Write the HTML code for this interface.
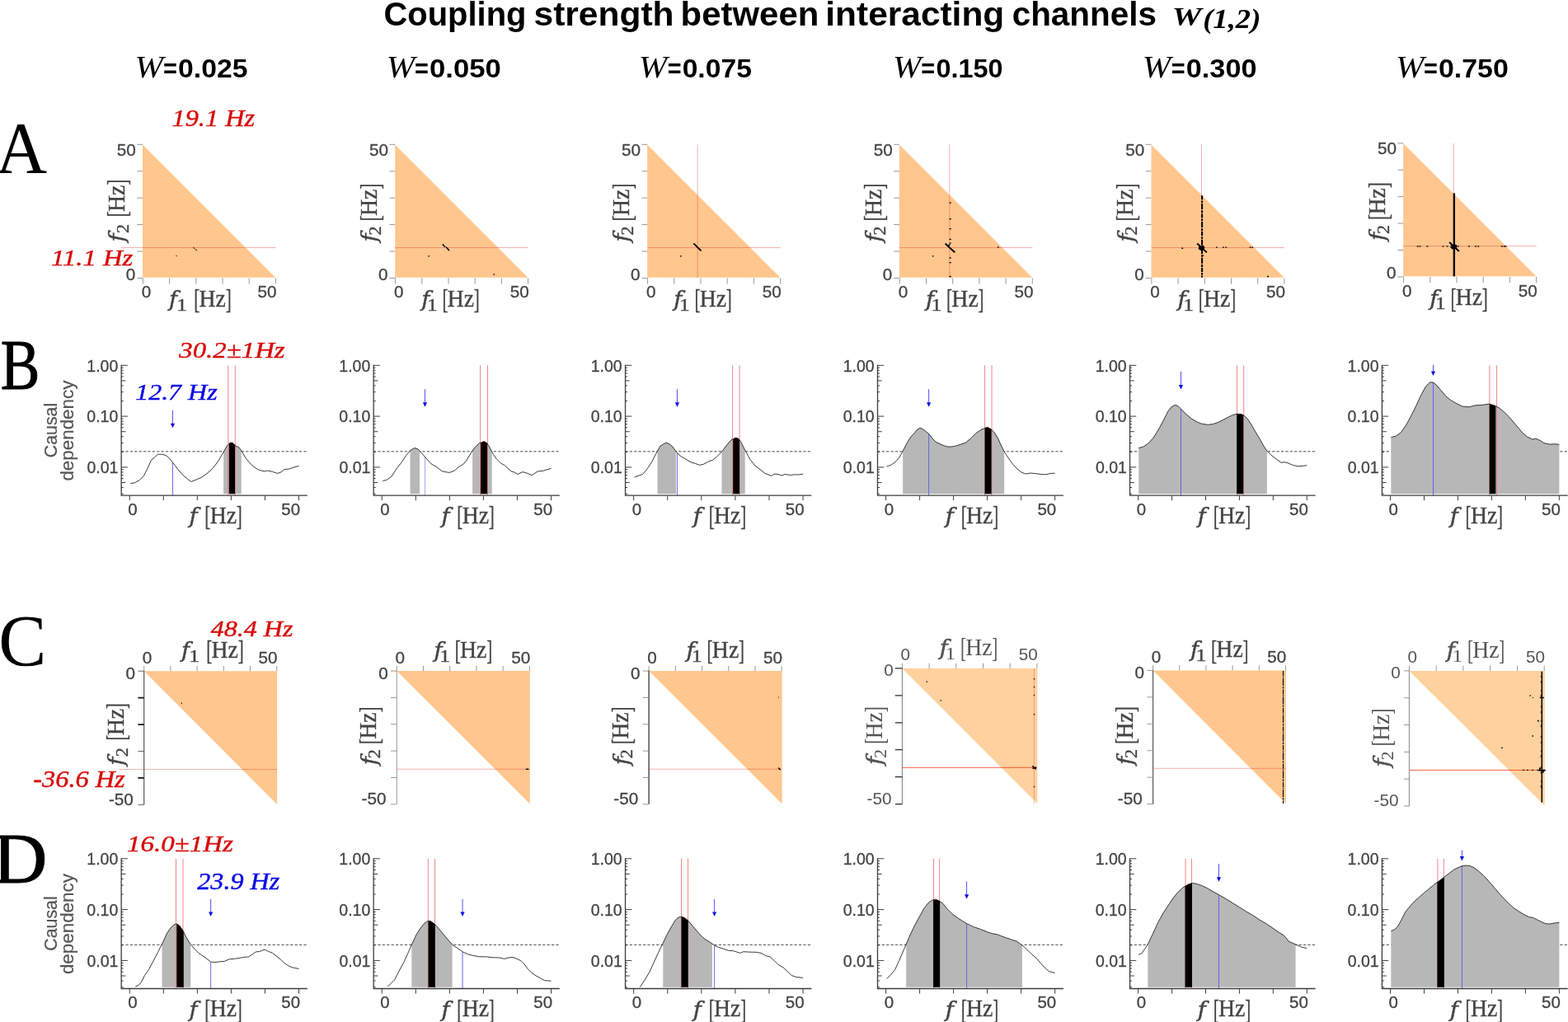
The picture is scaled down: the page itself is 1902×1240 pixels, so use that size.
<!DOCTYPE html>
<html lang="en"><head><meta charset="utf-8"><title>Coupling strength between interacting channels</title>
<style>
html,body{margin:0;padding:0;background:#fff;}
body{width:1902px;height:1240px;overflow:hidden;}
svg{display:block;}
text{font-family:"Liberation Sans",sans-serif;}
.sb{font-family:"Liberation Sans",sans-serif;font-weight:bold;fill:#000;}
.tk{font-family:"Liberation Sans",sans-serif;fill:#444;stroke:#444;stroke-width:.3px;}
.cd{font-family:"Liberation Sans",sans-serif;fill:#555;stroke:#555;stroke-width:.2px;}
.r{font-family:"Liberation Serif",serif;}
.rk{font-family:"Liberation Serif",serif;stroke:#000;stroke-width:1px;}
.ri{font-family:"Liberation Serif",serif;font-style:italic;fill:#000;}
.rbi{font-family:"Liberation Serif",serif;font-style:italic;font-weight:bold;}
.fi{font-family:"DejaVu Serif","Liberation Serif",serif;font-style:italic;stroke:#444;stroke-width:.45px;}
.fbi{font-family:"DejaVu Serif","Liberation Serif",serif;font-style:italic;font-weight:bold;}
.lab{fill:#444;}
.lab .r{stroke:#444;stroke-width:.35px;}
.lt .tk{fill:#555;stroke:none;}
.lt .lab{fill:#555;}
.lt .lab .r{stroke:none;}
.red{font-family:"Liberation Serif",serif;font-style:italic;fill:#d80a0a;stroke:#d80a0a;stroke-width:.4px;}
.blu{font-family:"Liberation Serif",serif;font-style:italic;fill:#0a0ae6;stroke:#0a0ae6;stroke-width:.4px;}
</style></head><body>
<svg width="1902" height="1240" viewBox="0 0 1902 1240">
<rect width="1902" height="1240" fill="#fff"/>
<text fill="#000"><tspan class="sb" x="465.5" y="30.9" font-size="40.5" textLength="172.97" lengthAdjust="spacingAndGlyphs">Coupling</tspan> <tspan class="sb" x="647.51" y="30.9" font-size="40.5" textLength="170.04" lengthAdjust="spacingAndGlyphs">strength</tspan> <tspan class="sb" x="825.57" y="30.9" font-size="40.5" textLength="167.78" lengthAdjust="spacingAndGlyphs">between</tspan> <tspan class="sb" x="1001.33" y="30.9" font-size="40.5" textLength="216.91" lengthAdjust="spacingAndGlyphs">interacting</tspan> <tspan class="sb" x="1227.68" y="30.9" font-size="40.5" textLength="175.34" lengthAdjust="spacingAndGlyphs">channels</tspan> <tspan class="rbi" x="1421.56" y="31.43" font-size="31.58" textLength="36.08" lengthAdjust="spacingAndGlyphs">W</tspan><tspan class="rbi" x="1459.17" y="33.64" font-size="34.11" textLength="70.25" lengthAdjust="spacingAndGlyphs">(1,2)</tspan></text>
<text fill="#000"><tspan class="ri" x="163.51" y="94.4" font-size="37.6" textLength="34.5" lengthAdjust="spacingAndGlyphs">W</tspan><tspan class="sb" x="198.04" y="94.1" font-size="31.5" textLength="16.88" lengthAdjust="spacingAndGlyphs">=</tspan><tspan class="sb" x="216.05" y="94.1" font-size="31.5" textLength="84.38" lengthAdjust="spacingAndGlyphs">0.025</tspan></text>
<text fill="#000"><tspan class="ri" x="468.71" y="94.4" font-size="37.6" textLength="34.5" lengthAdjust="spacingAndGlyphs">W</tspan><tspan class="sb" x="503.04" y="94.1" font-size="31.5" textLength="16.88" lengthAdjust="spacingAndGlyphs">=</tspan><tspan class="sb" x="521.01" y="94.1" font-size="31.5" textLength="86.86" lengthAdjust="spacingAndGlyphs">0.050</tspan></text>
<text fill="#000"><tspan class="ri" x="774.81" y="94.4" font-size="37.6" textLength="34.5" lengthAdjust="spacingAndGlyphs">W</tspan><tspan class="sb" x="809.64" y="94.1" font-size="31.5" textLength="16.88" lengthAdjust="spacingAndGlyphs">=</tspan><tspan class="sb" x="827.65" y="94.1" font-size="31.5" textLength="84.27" lengthAdjust="spacingAndGlyphs">0.075</tspan></text>
<text fill="#000"><tspan class="ri" x="1082.91" y="94.4" font-size="37.6" textLength="34.5" lengthAdjust="spacingAndGlyphs">W</tspan><tspan class="sb" x="1117.34" y="94.1" font-size="31.5" textLength="16.88" lengthAdjust="spacingAndGlyphs">=</tspan><tspan class="sb" x="1135.4" y="94.1" font-size="31.5" textLength="81.07" lengthAdjust="spacingAndGlyphs">0.150</tspan></text>
<text fill="#000"><tspan class="ri" x="1385.81" y="94.4" font-size="37.6" textLength="34.5" lengthAdjust="spacingAndGlyphs">W</tspan><tspan class="sb" x="1420.84" y="94.1" font-size="31.5" textLength="16.88" lengthAdjust="spacingAndGlyphs">=</tspan><tspan class="sb" x="1438.83" y="94.1" font-size="31.5" textLength="85.62" lengthAdjust="spacingAndGlyphs">0.300</tspan></text>
<text fill="#000"><tspan class="ri" x="1693.11" y="94.4" font-size="37.6" textLength="34.5" lengthAdjust="spacingAndGlyphs">W</tspan><tspan class="sb" x="1726.94" y="94.1" font-size="31.5" textLength="16.88" lengthAdjust="spacingAndGlyphs">=</tspan><tspan class="sb" x="1744.94" y="94.1" font-size="31.5" textLength="84.8" lengthAdjust="spacingAndGlyphs">0.750</tspan></text>
<text class="r" transform="translate(-5.37 208.6) scale(0.964 1)" font-size="89.77" fill="#000">A</text>
<text class="rk" transform="translate(0.66 471.5) scale(0.819 1)" font-size="87.18" fill="#000">B</text>
<text class="r" transform="translate(-1.68 807.41) scale(0.980 1)" font-size="88.81" fill="#000">C</text>
<text class="rk" transform="translate(-8.75 1070.5) scale(1.043 1)" font-size="87.79" fill="#000">D</text>
<path d="M173 175.4V336.8H334.2Z" fill="#ffc78e"/>
<path d="M166.3 337.4H173M173.4 337.4V344.6M166.3 304.98H173M205.6 337.4V344.6M166.3 272.56H173M237.8 337.4V344.6M166.3 240.14H173M270 337.4V344.6M166.3 207.72H173M302.2 337.4V344.6M166.3 175.3H173M334.4 337.4V344.6" stroke="#8c8c8c" stroke-width="0.9"/>
<path d="M147 300.5H334.5" stroke="#e62a2a" stroke-width="0.9" stroke-opacity="0.42"/>
<text class="tk" x="141.86" y="188.8" font-size="19.8" textLength="23.02" lengthAdjust="spacingAndGlyphs">50</text>
<text class="tk" x="152.84" y="339.5" font-size="19.8" textLength="11.51" lengthAdjust="spacingAndGlyphs">0</text>
<text class="tk" x="171.77" y="361.4" font-size="19.8" textLength="11.51" lengthAdjust="spacingAndGlyphs">0</text>
<text class="tk" x="312.56" y="361.4" font-size="19.8" textLength="23.02" lengthAdjust="spacingAndGlyphs">50</text>
<text class="lab" transform="translate(203.4 371.8)"><tspan class="fi" x="1.64" y="0.36" font-size="26.39" textLength="10.11" lengthAdjust="spacingAndGlyphs">f</tspan><tspan class="r" x="10.81" y="5" font-size="20.92" textLength="12.71" lengthAdjust="spacingAndGlyphs">1</tspan> <tspan class="r" x="31.8" y="2.52" font-size="33.94" textLength="7.12" lengthAdjust="spacingAndGlyphs">[</tspan><tspan class="r" x="38.07" y="0" font-size="28.85" textLength="32.35" lengthAdjust="spacingAndGlyphs">Hz</tspan><tspan class="r" x="70.27" y="2.52" font-size="33.94" textLength="6.96" lengthAdjust="spacingAndGlyphs">]</tspan></text>
<text class="lab" transform="translate(150.8 295.1) rotate(-90)"><tspan class="fi" x="1.64" y="0.36" font-size="26.39" textLength="10.11" lengthAdjust="spacingAndGlyphs">f</tspan><tspan class="r" x="12.1" y="5" font-size="20.76" textLength="11.12" lengthAdjust="spacingAndGlyphs">2</tspan> <tspan class="r" x="31.8" y="2.52" font-size="33.94" textLength="7.12" lengthAdjust="spacingAndGlyphs">[</tspan><tspan class="r" x="38.07" y="0" font-size="28.85" textLength="32.35" lengthAdjust="spacingAndGlyphs">Hz</tspan><tspan class="r" x="70.27" y="2.52" font-size="33.94" textLength="6.96" lengthAdjust="spacingAndGlyphs">]</tspan></text>
<path d="M213.4 309.9h1.2v1.2h-1.2z" fill="#000"/>
<path d="M234.3 300.2L236.5 301.9" stroke="#000" stroke-width="1"/>
<path d="M237.2 302.9L239 303.8" stroke="#000" stroke-width="1"/>
<path d="M479.2 175.4V336.8H640.4Z" fill="#ffc78e"/>
<path d="M472.5 337.4H479.2M479.6 337.4V344.6M472.5 304.98H479.2M511.8 337.4V344.6M472.5 272.56H479.2M544 337.4V344.6M472.5 240.14H479.2M576.2 337.4V344.6M472.5 207.72H479.2M608.4 337.4V344.6M472.5 175.3H479.2M640.6 337.4V344.6" stroke="#8c8c8c" stroke-width="0.9"/>
<path d="M479.2 300.5H640.7" stroke="#e62a2a" stroke-width="0.9" stroke-opacity="0.42"/>
<text class="tk" x="448.06" y="188.8" font-size="19.8" textLength="23.02" lengthAdjust="spacingAndGlyphs">50</text>
<text class="tk" x="459.04" y="339.5" font-size="19.8" textLength="11.51" lengthAdjust="spacingAndGlyphs">0</text>
<text class="tk" x="477.97" y="361.4" font-size="19.8" textLength="11.51" lengthAdjust="spacingAndGlyphs">0</text>
<text class="tk" x="618.76" y="361.4" font-size="19.8" textLength="23.02" lengthAdjust="spacingAndGlyphs">50</text>
<text class="lab" transform="translate(509.6 371.8)"><tspan class="fi" x="1.64" y="0.36" font-size="26.39" textLength="10.11" lengthAdjust="spacingAndGlyphs">f</tspan><tspan class="r" x="8.31" y="5" font-size="20.92" textLength="12.71" lengthAdjust="spacingAndGlyphs">1</tspan> <tspan class="r" x="26.8" y="2.52" font-size="33.94" textLength="7.12" lengthAdjust="spacingAndGlyphs">[</tspan><tspan class="r" x="33.07" y="0" font-size="28.85" textLength="32.35" lengthAdjust="spacingAndGlyphs">Hz</tspan><tspan class="r" x="65.27" y="2.52" font-size="33.94" textLength="6.96" lengthAdjust="spacingAndGlyphs">]</tspan></text>
<text class="lab" transform="translate(457 295.1) rotate(-90)"><tspan class="fi" x="1.64" y="0.36" font-size="26.39" textLength="10.11" lengthAdjust="spacingAndGlyphs">f</tspan><tspan class="r" x="9.6" y="5" font-size="20.76" textLength="11.12" lengthAdjust="spacingAndGlyphs">2</tspan> <tspan class="r" x="26.8" y="2.52" font-size="33.94" textLength="7.12" lengthAdjust="spacingAndGlyphs">[</tspan><tspan class="r" x="33.07" y="0" font-size="28.85" textLength="32.35" lengthAdjust="spacingAndGlyphs">Hz</tspan><tspan class="r" x="65.27" y="2.52" font-size="33.94" textLength="6.96" lengthAdjust="spacingAndGlyphs">]</tspan></text>
<path d="M519.4 310h1.4v1.4h-1.4zM598.5 332.3h1.4v1.4h-1.4z" fill="#000"/>
<path d="M536.8 296.3L539.9 299.8" stroke="#000" stroke-width="1.4"/>
<path d="M541 299.6L544.8 304.1" stroke="#000" stroke-width="1.6"/>
<path d="M785.2 175.4V336.8H946.4Z" fill="#ffc78e"/>
<path d="M778.5 337.4H785.2M785.6 337.4V344.6M778.5 304.98H785.2M817.8 337.4V344.6M778.5 272.56H785.2M850 337.4V344.6M778.5 240.14H785.2M882.2 337.4V344.6M778.5 207.72H785.2M914.4 337.4V344.6M778.5 175.3H785.2M946.6 337.4V344.6" stroke="#8c8c8c" stroke-width="0.9"/>
<path d="M785.2 300.5H946.7" stroke="#e62a2a" stroke-width="0.9" stroke-opacity="0.42"/>
<path d="M846.2 175.4V336.8" stroke="#e62a2a" stroke-width="0.9" stroke-opacity="0.42"/>
<text class="tk" x="754.06" y="188.8" font-size="19.8" textLength="23.02" lengthAdjust="spacingAndGlyphs">50</text>
<text class="tk" x="765.04" y="339.5" font-size="19.8" textLength="11.51" lengthAdjust="spacingAndGlyphs">0</text>
<text class="tk" x="783.97" y="361.4" font-size="19.8" textLength="11.51" lengthAdjust="spacingAndGlyphs">0</text>
<text class="tk" x="924.76" y="361.4" font-size="19.8" textLength="23.02" lengthAdjust="spacingAndGlyphs">50</text>
<text class="lab" transform="translate(815.6 371.8)"><tspan class="fi" x="1.64" y="0.36" font-size="26.39" textLength="10.11" lengthAdjust="spacingAndGlyphs">f</tspan><tspan class="r" x="8.31" y="5" font-size="20.92" textLength="12.71" lengthAdjust="spacingAndGlyphs">1</tspan> <tspan class="r" x="26.8" y="2.52" font-size="33.94" textLength="7.12" lengthAdjust="spacingAndGlyphs">[</tspan><tspan class="r" x="33.07" y="0" font-size="28.85" textLength="32.35" lengthAdjust="spacingAndGlyphs">Hz</tspan><tspan class="r" x="65.27" y="2.52" font-size="33.94" textLength="6.96" lengthAdjust="spacingAndGlyphs">]</tspan></text>
<text class="lab" transform="translate(763 295.1) rotate(-90)"><tspan class="fi" x="1.64" y="0.36" font-size="26.39" textLength="10.11" lengthAdjust="spacingAndGlyphs">f</tspan><tspan class="r" x="9.6" y="5" font-size="20.76" textLength="11.12" lengthAdjust="spacingAndGlyphs">2</tspan> <tspan class="r" x="26.8" y="2.52" font-size="33.94" textLength="7.12" lengthAdjust="spacingAndGlyphs">[</tspan><tspan class="r" x="33.07" y="0" font-size="28.85" textLength="32.35" lengthAdjust="spacingAndGlyphs">Hz</tspan><tspan class="r" x="65.27" y="2.52" font-size="33.94" textLength="6.96" lengthAdjust="spacingAndGlyphs">]</tspan></text>
<path d="M825.1 310h1.4v1.4h-1.4z" fill="#000"/>
<path d="M841.4 295.3L850.5 304.3" stroke="#000" stroke-width="1.8"/>
<path d="M1090.9 175.4V336.8H1252.1Z" fill="#ffc78e"/>
<path d="M1084.2 337.4H1090.9M1091.3 337.4V344.6M1084.2 304.98H1090.9M1123.5 337.4V344.6M1084.2 272.56H1090.9M1155.7 337.4V344.6M1084.2 240.14H1090.9M1187.9 337.4V344.6M1084.2 207.72H1090.9M1220.1 337.4V344.6M1084.2 175.3H1090.9M1252.3 337.4V344.6" stroke="#8c8c8c" stroke-width="0.9"/>
<path d="M1090.9 300.5H1252.4" stroke="#e62a2a" stroke-width="0.9" stroke-opacity="0.42"/>
<path d="M1151.9 175.4V336.8" stroke="#e62a2a" stroke-width="0.9" stroke-opacity="0.42"/>
<text class="tk" x="1059.76" y="188.8" font-size="19.8" textLength="23.02" lengthAdjust="spacingAndGlyphs">50</text>
<text class="tk" x="1070.74" y="339.5" font-size="19.8" textLength="11.51" lengthAdjust="spacingAndGlyphs">0</text>
<text class="tk" x="1089.67" y="361.4" font-size="19.8" textLength="11.51" lengthAdjust="spacingAndGlyphs">0</text>
<text class="tk" x="1230.46" y="361.4" font-size="19.8" textLength="23.02" lengthAdjust="spacingAndGlyphs">50</text>
<text class="lab" transform="translate(1121.3 371.8)"><tspan class="fi" x="1.64" y="0.36" font-size="26.39" textLength="10.11" lengthAdjust="spacingAndGlyphs">f</tspan><tspan class="r" x="8.31" y="5" font-size="20.92" textLength="12.71" lengthAdjust="spacingAndGlyphs">1</tspan> <tspan class="r" x="26.8" y="2.52" font-size="33.94" textLength="7.12" lengthAdjust="spacingAndGlyphs">[</tspan><tspan class="r" x="33.07" y="0" font-size="28.85" textLength="32.35" lengthAdjust="spacingAndGlyphs">Hz</tspan><tspan class="r" x="65.27" y="2.52" font-size="33.94" textLength="6.96" lengthAdjust="spacingAndGlyphs">]</tspan></text>
<text class="lab" transform="translate(1068.7 295.1) rotate(-90)"><tspan class="fi" x="1.64" y="0.36" font-size="26.39" textLength="10.11" lengthAdjust="spacingAndGlyphs">f</tspan><tspan class="r" x="9.6" y="5" font-size="20.76" textLength="11.12" lengthAdjust="spacingAndGlyphs">2</tspan> <tspan class="r" x="26.8" y="2.52" font-size="33.94" textLength="7.12" lengthAdjust="spacingAndGlyphs">[</tspan><tspan class="r" x="33.07" y="0" font-size="28.85" textLength="32.35" lengthAdjust="spacingAndGlyphs">Hz</tspan><tspan class="r" x="65.27" y="2.52" font-size="33.94" textLength="6.96" lengthAdjust="spacingAndGlyphs">]</tspan></text>
<path d="M1131 310h1.4v1.4h-1.4zM1151.5 245.55h2.2v1.3h-2.2zM1151.5 265.05h2.2v1.3h-2.2zM1151.5 277.05h2.2v1.3h-2.2zM1151.5 289.75h2.2v1.3h-2.2zM1151.5 294.55h2.2v1.3h-2.2zM1151.5 312.25h2.2v1.3h-2.2zM1151.5 317.95h2.2v1.3h-2.2zM1151.5 334.85h2.2v1.3h-2.2zM1209.8 299.2h2v1.4h-2z" fill="#000"/>
<path d="M1146.6 295.6L1158.2 306.2" stroke="#000" stroke-width="2"/>
<path d="M1149.4 298.2L1152.4 296.6" stroke="#000" stroke-width="1.2"/>
<path d="M1396.5 175.4V336.8H1557.7Z" fill="#ffc78e"/>
<path d="M1389.8 337.4H1396.5M1396.9 337.4V344.6M1389.8 304.98H1396.5M1429.1 337.4V344.6M1389.8 272.56H1396.5M1461.3 337.4V344.6M1389.8 240.14H1396.5M1493.5 337.4V344.6M1389.8 207.72H1396.5M1525.7 337.4V344.6M1389.8 175.3H1396.5M1557.9 337.4V344.6" stroke="#8c8c8c" stroke-width="0.9"/>
<path d="M1396.5 300.5H1558" stroke="#e62a2a" stroke-width="0.9" stroke-opacity="0.42"/>
<path d="M1457.5 175.4V336.8" stroke="#e62a2a" stroke-width="0.9" stroke-opacity="0.42"/>
<text class="tk" x="1365.36" y="188.8" font-size="19.8" textLength="23.02" lengthAdjust="spacingAndGlyphs">50</text>
<text class="tk" x="1376.34" y="339.5" font-size="19.8" textLength="11.51" lengthAdjust="spacingAndGlyphs">0</text>
<text class="tk" x="1395.27" y="361.4" font-size="19.8" textLength="11.51" lengthAdjust="spacingAndGlyphs">0</text>
<text class="tk" x="1536.06" y="361.4" font-size="19.8" textLength="23.02" lengthAdjust="spacingAndGlyphs">50</text>
<text class="lab" transform="translate(1426.9 371.8)"><tspan class="fi" x="1.64" y="0.36" font-size="26.39" textLength="10.11" lengthAdjust="spacingAndGlyphs">f</tspan><tspan class="r" x="8.31" y="5" font-size="20.92" textLength="12.71" lengthAdjust="spacingAndGlyphs">1</tspan> <tspan class="r" x="26.8" y="2.52" font-size="33.94" textLength="7.12" lengthAdjust="spacingAndGlyphs">[</tspan><tspan class="r" x="33.07" y="0" font-size="28.85" textLength="32.35" lengthAdjust="spacingAndGlyphs">Hz</tspan><tspan class="r" x="65.27" y="2.52" font-size="33.94" textLength="6.96" lengthAdjust="spacingAndGlyphs">]</tspan></text>
<text class="lab" transform="translate(1374.3 295.1) rotate(-90)"><tspan class="fi" x="1.64" y="0.36" font-size="26.39" textLength="10.11" lengthAdjust="spacingAndGlyphs">f</tspan><tspan class="r" x="9.6" y="5" font-size="20.76" textLength="11.12" lengthAdjust="spacingAndGlyphs">2</tspan> <tspan class="r" x="26.8" y="2.52" font-size="33.94" textLength="7.12" lengthAdjust="spacingAndGlyphs">[</tspan><tspan class="r" x="33.07" y="0" font-size="28.85" textLength="32.35" lengthAdjust="spacingAndGlyphs">Hz</tspan><tspan class="r" x="65.27" y="2.52" font-size="33.94" textLength="6.96" lengthAdjust="spacingAndGlyphs">]</tspan></text>
<path d="M1433.3 300.45h1.8v1.5h-1.8zM1475.1 299.4h1.8v1.4h-1.8zM1483.1 299.4h1.8v1.4h-1.8zM1486.3 299.4h1.8v1.4h-1.8zM1515.6 299.4h1.8v1.4h-1.8zM1518.2 299.4h1.8v1.4h-1.8zM1537 334.85h2v1.3h-2zM1458.85 309.35h1.3v1.3h-1.3z" fill="#000"/>
<path d="M1458.1 237.3L1458.1 336.5" stroke="#000" stroke-width="2" stroke-dasharray="5 1.2 2.5 1 7 1.3 3 0.9"/>
<path d="M1452.2 295.6L1463.8 306.2" stroke="#000" stroke-width="2"/>
<path d="M1454 300.3L1461 301.3" stroke="#000" stroke-width="4.5"/>
<path d="M1455.5 303.3L1460 298.3" stroke="#000" stroke-width="2.5"/>
<path d="M1702.2 173.9V335.3H1863.4Z" fill="#ffc78e"/>
<path d="M1695.5 335.9H1702.2M1702.6 335.9V343.1M1695.5 303.48H1702.2M1734.8 335.9V343.1M1695.5 271.06H1702.2M1767 335.9V343.1M1695.5 238.64H1702.2M1799.2 335.9V343.1M1695.5 206.22H1702.2M1831.4 335.9V343.1M1695.5 173.8H1702.2M1863.6 335.9V343.1" stroke="#8c8c8c" stroke-width="0.9"/>
<path d="M1702.2 298.6H1863.7" stroke="#e62a2a" stroke-width="0.9" stroke-opacity="0.42"/>
<path d="M1763.2 173.9V335.3" stroke="#e62a2a" stroke-width="0.9" stroke-opacity="0.42"/>
<text class="tk" x="1671.06" y="187.3" font-size="19.8" textLength="23.02" lengthAdjust="spacingAndGlyphs">50</text>
<text class="tk" x="1682.04" y="338" font-size="19.8" textLength="11.51" lengthAdjust="spacingAndGlyphs">0</text>
<text class="tk" x="1700.97" y="359.9" font-size="19.8" textLength="11.51" lengthAdjust="spacingAndGlyphs">0</text>
<text class="tk" x="1841.76" y="359.9" font-size="19.8" textLength="23.02" lengthAdjust="spacingAndGlyphs">50</text>
<text class="lab" transform="translate(1732.6 370.3)"><tspan class="fi" x="1.64" y="0.36" font-size="26.39" textLength="10.11" lengthAdjust="spacingAndGlyphs">f</tspan><tspan class="r" x="8.31" y="5" font-size="20.92" textLength="12.71" lengthAdjust="spacingAndGlyphs">1</tspan> <tspan class="r" x="26.8" y="2.52" font-size="33.94" textLength="7.12" lengthAdjust="spacingAndGlyphs">[</tspan><tspan class="r" x="33.07" y="0" font-size="28.85" textLength="32.35" lengthAdjust="spacingAndGlyphs">Hz</tspan><tspan class="r" x="65.27" y="2.52" font-size="33.94" textLength="6.96" lengthAdjust="spacingAndGlyphs">]</tspan></text>
<text class="lab" transform="translate(1680 293.6) rotate(-90)"><tspan class="fi" x="1.64" y="0.36" font-size="26.39" textLength="10.11" lengthAdjust="spacingAndGlyphs">f</tspan><tspan class="r" x="9.6" y="5" font-size="20.76" textLength="11.12" lengthAdjust="spacingAndGlyphs">2</tspan> <tspan class="r" x="26.8" y="2.52" font-size="33.94" textLength="7.12" lengthAdjust="spacingAndGlyphs">[</tspan><tspan class="r" x="33.07" y="0" font-size="28.85" textLength="32.35" lengthAdjust="spacingAndGlyphs">Hz</tspan><tspan class="r" x="65.27" y="2.52" font-size="33.94" textLength="6.96" lengthAdjust="spacingAndGlyphs">]</tspan></text>
<path d="M1718.7 298.2h2v1.4h-2zM1721.5 298.2h2v1.4h-2zM1730.4 298.2h2v1.4h-2zM1749.5 298.2h2v1.4h-2zM1754.7 298.2h2v1.4h-2zM1767.7 298.2h2v1.4h-2zM1780.9 298.2h2v1.4h-2zM1789 298.2h2v1.4h-2zM1792.2 298.2h2v1.4h-2zM1820.8 298.2h2v1.4h-2zM1823.7 298.2h2v1.4h-2zM1825.5 298.2h2v1.4h-2z" fill="#000"/>
<path d="M1763.9 234.4L1763.9 335.3" stroke="#000" stroke-width="2.3"/>
<path d="M1758.2 294L1769.9 305" stroke="#000" stroke-width="2"/>
<path d="M1759.7 298.8L1767.2 299.8" stroke="#000" stroke-width="4.5"/>
<path d="M1761.2 301.8L1765.7 296.8" stroke="#000" stroke-width="2.5"/>
<path d="M174.7 814.2H336.1V975.9Z" fill="#ffc78e"/>
<path d="M174.7 813.7V976.4" stroke="#555" stroke-width="1.2"/>
<path d="M167.4 814.2H174.7M167.4 911.52H174.7M167.4 976.4H174.7" stroke="#666" stroke-width="1"/>
<path d="M167.4 846.64H174.7M167.4 879.08H174.7M167.4 943.96H174.7" stroke="#111" stroke-width="1.7"/>
<path d="M174.7 808V814.2M206.9 808V814.2M239.1 808V814.2M271.3 808V814.2M303.5 808V814.2M335.7 808V814.2" stroke="#8c8c8c" stroke-width="0.9"/>
<path d="M144.8 933.6H336.1" stroke="#e62a2a" stroke-width="0.9" stroke-opacity="0.42"/>
<text class="tk" x="152.64" y="823.6" font-size="19.8" textLength="11.51" lengthAdjust="spacingAndGlyphs">0</text>
<text class="tk" x="131.93" y="976.5" font-size="19.8" textLength="29.9" lengthAdjust="spacingAndGlyphs">-50</text>
<text class="tk" x="172.87" y="804.6" font-size="19.8" textLength="11.51" lengthAdjust="spacingAndGlyphs">0</text>
<text class="tk" x="313.46" y="804.6" font-size="19.8" textLength="23.02" lengthAdjust="spacingAndGlyphs">50</text>
<text class="lab" transform="translate(218.4 797.9)"><tspan class="fi" x="1.64" y="0.36" font-size="26.39" textLength="10.11" lengthAdjust="spacingAndGlyphs">f</tspan><tspan class="r" x="10.81" y="5" font-size="20.92" textLength="12.71" lengthAdjust="spacingAndGlyphs">1</tspan> <tspan class="r" x="31.8" y="2.52" font-size="33.94" textLength="7.12" lengthAdjust="spacingAndGlyphs">[</tspan><tspan class="r" x="38.07" y="0" font-size="28.85" textLength="32.35" lengthAdjust="spacingAndGlyphs">Hz</tspan><tspan class="r" x="70.27" y="2.52" font-size="33.94" textLength="6.96" lengthAdjust="spacingAndGlyphs">]</tspan></text>
<text class="lab" transform="translate(149.8 930.4) rotate(-90)"><tspan class="fi" x="1.64" y="0.36" font-size="26.39" textLength="10.11" lengthAdjust="spacingAndGlyphs">f</tspan><tspan class="r" x="12.1" y="5" font-size="20.76" textLength="11.12" lengthAdjust="spacingAndGlyphs">2</tspan> <tspan class="r" x="31.8" y="2.52" font-size="33.94" textLength="7.12" lengthAdjust="spacingAndGlyphs">[</tspan><tspan class="r" x="38.07" y="0" font-size="28.85" textLength="32.35" lengthAdjust="spacingAndGlyphs">Hz</tspan><tspan class="r" x="70.27" y="2.52" font-size="33.94" textLength="6.96" lengthAdjust="spacingAndGlyphs">]</tspan></text>
<path d="M219.8 852.6h1.2v1.2h-1.2z" fill="#000"/>
<path d="M481.3 814.1H642.8V975.3Z" fill="#ffc78e"/>
<path d="M481.3 813.6V975.8" stroke="#999" stroke-width="1"/>
<path d="M474 814.1H481.3M474 846.44H481.3M474 878.78H481.3M474 911.12H481.3M474 943.46H481.3M474 975.8H481.3" stroke="#8c8c8c" stroke-width="0.9"/>
<path d="M481.3 807.9V814.1M513.52 807.9V814.1M545.74 807.9V814.1M577.96 807.9V814.1M610.18 807.9V814.1M642.4 807.9V814.1" stroke="#8c8c8c" stroke-width="0.9"/>
<path d="M481.3 933.2H642.8" stroke="#e62a2a" stroke-width="0.9" stroke-opacity="0.42"/>
<text class="tk" x="459.24" y="823.5" font-size="19.8" textLength="11.51" lengthAdjust="spacingAndGlyphs">0</text>
<text class="tk" x="438.53" y="975.9" font-size="19.8" textLength="29.9" lengthAdjust="spacingAndGlyphs">-50</text>
<text class="tk" x="479.47" y="804.5" font-size="19.8" textLength="11.51" lengthAdjust="spacingAndGlyphs">0</text>
<text class="tk" x="620.16" y="804.5" font-size="19.8" textLength="23.02" lengthAdjust="spacingAndGlyphs">50</text>
<text class="lab" transform="translate(525 797.8)"><tspan class="fi" x="1.64" y="0.36" font-size="26.39" textLength="10.11" lengthAdjust="spacingAndGlyphs">f</tspan><tspan class="r" x="8.31" y="5" font-size="20.92" textLength="12.71" lengthAdjust="spacingAndGlyphs">1</tspan> <tspan class="r" x="26.8" y="2.52" font-size="33.94" textLength="7.12" lengthAdjust="spacingAndGlyphs">[</tspan><tspan class="r" x="33.07" y="0" font-size="28.85" textLength="32.35" lengthAdjust="spacingAndGlyphs">Hz</tspan><tspan class="r" x="65.27" y="2.52" font-size="33.94" textLength="6.96" lengthAdjust="spacingAndGlyphs">]</tspan></text>
<text class="lab" transform="translate(456.4 929.8) rotate(-90)"><tspan class="fi" x="1.64" y="0.36" font-size="26.39" textLength="10.11" lengthAdjust="spacingAndGlyphs">f</tspan><tspan class="r" x="9.6" y="5" font-size="20.76" textLength="11.12" lengthAdjust="spacingAndGlyphs">2</tspan> <tspan class="r" x="26.8" y="2.52" font-size="33.94" textLength="7.12" lengthAdjust="spacingAndGlyphs">[</tspan><tspan class="r" x="33.07" y="0" font-size="28.85" textLength="32.35" lengthAdjust="spacingAndGlyphs">Hz</tspan><tspan class="r" x="65.27" y="2.52" font-size="33.94" textLength="6.96" lengthAdjust="spacingAndGlyphs">]</tspan></text>
<path d="M637.85 932.6h3.5v1.4h-3.5z" fill="#000"/>
<path d="M787.1 814.1H948.6V975.3Z" fill="#ffc78e"/>
<path d="M787.1 813.6V975.8" stroke="#444" stroke-width="1.4"/>
<path d="M779.8 814.1H787.1M779.8 846.44H787.1M779.8 878.78H787.1M779.8 911.12H787.1M779.8 943.46H787.1M779.8 975.8H787.1" stroke="#8c8c8c" stroke-width="0.9"/>
<path d="M787.1 807.9V814.1M819.32 807.9V814.1M851.54 807.9V814.1M883.76 807.9V814.1M915.98 807.9V814.1M948.2 807.9V814.1" stroke="#8c8c8c" stroke-width="0.9"/>
<path d="M787.1 933.2H948.6" stroke="#e62a2a" stroke-width="0.9" stroke-opacity="0.42"/>
<text class="tk" x="765.04" y="823.5" font-size="19.8" textLength="11.51" lengthAdjust="spacingAndGlyphs">0</text>
<text class="tk" x="744.33" y="975.9" font-size="19.8" textLength="29.9" lengthAdjust="spacingAndGlyphs">-50</text>
<text class="tk" x="785.27" y="804.5" font-size="19.8" textLength="11.51" lengthAdjust="spacingAndGlyphs">0</text>
<text class="tk" x="925.96" y="804.5" font-size="19.8" textLength="23.02" lengthAdjust="spacingAndGlyphs">50</text>
<text class="lab" transform="translate(830.8 797.8)"><tspan class="fi" x="1.64" y="0.36" font-size="26.39" textLength="10.11" lengthAdjust="spacingAndGlyphs">f</tspan><tspan class="r" x="8.31" y="5" font-size="20.92" textLength="12.71" lengthAdjust="spacingAndGlyphs">1</tspan> <tspan class="r" x="26.8" y="2.52" font-size="33.94" textLength="7.12" lengthAdjust="spacingAndGlyphs">[</tspan><tspan class="r" x="33.07" y="0" font-size="28.85" textLength="32.35" lengthAdjust="spacingAndGlyphs">Hz</tspan><tspan class="r" x="65.27" y="2.52" font-size="33.94" textLength="6.96" lengthAdjust="spacingAndGlyphs">]</tspan></text>
<text class="lab" transform="translate(762.2 929.8) rotate(-90)"><tspan class="fi" x="1.64" y="0.36" font-size="26.39" textLength="10.11" lengthAdjust="spacingAndGlyphs">f</tspan><tspan class="r" x="9.6" y="5" font-size="20.76" textLength="11.12" lengthAdjust="spacingAndGlyphs">2</tspan> <tspan class="r" x="26.8" y="2.52" font-size="33.94" textLength="7.12" lengthAdjust="spacingAndGlyphs">[</tspan><tspan class="r" x="33.07" y="0" font-size="28.85" textLength="32.35" lengthAdjust="spacingAndGlyphs">Hz</tspan><tspan class="r" x="65.27" y="2.52" font-size="33.94" textLength="6.96" lengthAdjust="spacingAndGlyphs">]</tspan></text>
<path d="M943.9 845.5h1v1h-1z" fill="#000"/>
<path d="M944.2 931.5L946.6 934.2" stroke="#000" stroke-width="1.3"/>
<path d="M1094.4 810.9H1258.3V975.1Z" fill="#ffd19e"/>
<path d="M1094.4 810.4V975.6" stroke="#777" stroke-width="1"/>
<path d="M1085.8 810.9H1094.4M1085.8 843.84H1094.4M1085.8 876.78H1094.4M1085.8 909.72H1094.4M1085.8 942.66H1094.4M1085.8 975.6H1094.4" stroke="#2a2a2a" stroke-width="1.2"/>
<g class="lt">
<path d="M1094.4 804.7V810.9M1127.1 804.7V810.9M1159.8 804.7V810.9M1192.5 804.7V810.9M1225.2 804.7V810.9M1257.9 804.7V810.9" stroke="#8c8c8c" stroke-width="0.9"/>
<path d="M1094.4 931.3H1258.3" stroke="#ee3a1a" stroke-width="0.9" stroke-opacity="0.9"/>
<path d="M1254.4 810.9V975.6" stroke="#e62a2a" stroke-width="0.9" stroke-opacity="0.35"/>
<text class="tk" x="1072.34" y="820.3" font-size="19.8" textLength="11.51" lengthAdjust="spacingAndGlyphs">0</text>
<text class="tk" x="1051.63" y="975.7" font-size="19.8" textLength="29.9" lengthAdjust="spacingAndGlyphs">-50</text>
<text class="tk" x="1092.57" y="801.3" font-size="19.8" textLength="11.51" lengthAdjust="spacingAndGlyphs">0</text>
<text class="tk" x="1235.66" y="801.3" font-size="19.8" textLength="23.02" lengthAdjust="spacingAndGlyphs">50</text>
<text class="lab" transform="translate(1138.1 794.6)"><tspan class="fi" x="1.64" y="0.36" font-size="26.39" textLength="10.11" lengthAdjust="spacingAndGlyphs">f</tspan><tspan class="r" x="8.31" y="5" font-size="20.92" textLength="12.71" lengthAdjust="spacingAndGlyphs">1</tspan> <tspan class="r" x="26.8" y="2.52" font-size="33.94" textLength="7.12" lengthAdjust="spacingAndGlyphs">[</tspan><tspan class="r" x="33.07" y="0" font-size="28.85" textLength="32.35" lengthAdjust="spacingAndGlyphs">Hz</tspan><tspan class="r" x="65.27" y="2.52" font-size="33.94" textLength="6.96" lengthAdjust="spacingAndGlyphs">]</tspan></text>
<text class="lab" transform="translate(1069.5 929.6) rotate(-90)"><tspan class="fi" x="1.64" y="0.36" font-size="26.39" textLength="10.11" lengthAdjust="spacingAndGlyphs">f</tspan><tspan class="r" x="9.6" y="5" font-size="20.76" textLength="11.12" lengthAdjust="spacingAndGlyphs">2</tspan> <tspan class="r" x="26.8" y="2.52" font-size="33.94" textLength="7.12" lengthAdjust="spacingAndGlyphs">[</tspan><tspan class="r" x="33.07" y="0" font-size="28.85" textLength="32.35" lengthAdjust="spacingAndGlyphs">Hz</tspan><tspan class="r" x="65.27" y="2.52" font-size="33.94" textLength="6.96" lengthAdjust="spacingAndGlyphs">]</tspan></text>
</g>
<path d="M1123.6 826.4h1.4v1.4h-1.4zM1140.5 849.2h1.4v1.4h-1.4zM1253.85 823.05h1.3v1.5h-1.3zM1253.85 832.65h1.3v1.5h-1.3zM1253.85 842.85h1.3v1.5h-1.3zM1253.85 866.05h1.3v1.5h-1.3zM1253.85 953.65h1.3v1.5h-1.3z" fill="#000"/>
<path d="M1252.2 929.2L1256.8 933.5" stroke="#000" stroke-width="1.5"/>
<path d="M1252.5 932.5L1257 931" stroke="#000" stroke-width="1.5"/>
<path d="M1398.6 813.4H1559.8V975.1Z" fill="#ffc78e"/>
<path d="M1398.6 812.9V975.6" stroke="#555" stroke-width="1.2"/>
<path d="M1391.3 813.4H1398.6M1391.3 845.84H1398.6M1391.3 878.28H1398.6M1391.3 910.72H1398.6M1391.3 943.16H1398.6M1391.3 975.6H1398.6" stroke="#8c8c8c" stroke-width="0.9"/>
<path d="M1398.6 807.2V813.4M1430.76 807.2V813.4M1462.92 807.2V813.4M1495.08 807.2V813.4M1527.24 807.2V813.4M1559.4 807.2V813.4" stroke="#8c8c8c" stroke-width="0.9"/>
<path d="M1398.6 932.3H1559.8" stroke="#e62a2a" stroke-width="0.9" stroke-opacity="0.42"/>
<text class="tk" x="1376.54" y="822.8" font-size="19.8" textLength="11.51" lengthAdjust="spacingAndGlyphs">0</text>
<text class="tk" x="1355.83" y="975.7" font-size="19.8" textLength="29.9" lengthAdjust="spacingAndGlyphs">-50</text>
<text class="tk" x="1396.77" y="803.8" font-size="19.8" textLength="11.51" lengthAdjust="spacingAndGlyphs">0</text>
<text class="tk" x="1537.16" y="803.8" font-size="19.8" textLength="23.02" lengthAdjust="spacingAndGlyphs">50</text>
<text class="lab" transform="translate(1442.3 797.1)"><tspan class="fi" x="1.64" y="0.36" font-size="26.39" textLength="10.11" lengthAdjust="spacingAndGlyphs">f</tspan><tspan class="r" x="8.31" y="5" font-size="20.92" textLength="12.71" lengthAdjust="spacingAndGlyphs">1</tspan> <tspan class="r" x="26.8" y="2.52" font-size="33.94" textLength="7.12" lengthAdjust="spacingAndGlyphs">[</tspan><tspan class="r" x="33.07" y="0" font-size="28.85" textLength="32.35" lengthAdjust="spacingAndGlyphs">Hz</tspan><tspan class="r" x="65.27" y="2.52" font-size="33.94" textLength="6.96" lengthAdjust="spacingAndGlyphs">]</tspan></text>
<text class="lab" transform="translate(1373.7 929.6) rotate(-90)"><tspan class="fi" x="1.64" y="0.36" font-size="26.39" textLength="10.11" lengthAdjust="spacingAndGlyphs">f</tspan><tspan class="r" x="9.6" y="5" font-size="20.76" textLength="11.12" lengthAdjust="spacingAndGlyphs">2</tspan> <tspan class="r" x="26.8" y="2.52" font-size="33.94" textLength="7.12" lengthAdjust="spacingAndGlyphs">[</tspan><tspan class="r" x="33.07" y="0" font-size="28.85" textLength="32.35" lengthAdjust="spacingAndGlyphs">Hz</tspan><tspan class="r" x="65.27" y="2.52" font-size="33.94" textLength="6.96" lengthAdjust="spacingAndGlyphs">]</tspan></text>
<path d="M1556.5 814L1556.5 975" stroke="#000" stroke-width="1.1" stroke-dasharray="6 0.8 1.5 0.8 9 1 2.5 0.9"/>
<path d="M1709.4 813.9H1873.6V977.5Z" fill="#ffd19e"/>
<path d="M1709.4 813.4V978" stroke="#888" stroke-width="1"/>
<path d="M1702.9 813.9H1709.4M1702.9 846.72H1709.4M1702.9 879.54H1709.4M1702.9 912.36H1709.4M1702.9 945.18H1709.4M1702.9 978H1709.4" stroke="#8c8c8c" stroke-width="0.9"/>
<g class="lt">
<path d="M1709.4 807.7V813.9M1742.16 807.7V813.9M1774.92 807.7V813.9M1807.68 807.7V813.9M1840.44 807.7V813.9M1873.2 807.7V813.9" stroke="#8c8c8c" stroke-width="0.9"/>
<path d="M1709.4 934.4H1873.6" stroke="#ee3a1a" stroke-width="0.9" stroke-opacity="0.9"/>
<text class="tk" x="1687.34" y="823.3" font-size="19.8" textLength="11.51" lengthAdjust="spacingAndGlyphs">0</text>
<text class="tk" x="1666.63" y="978.1" font-size="19.8" textLength="29.9" lengthAdjust="spacingAndGlyphs">-50</text>
<text class="tk" x="1707.57" y="804.3" font-size="19.8" textLength="11.51" lengthAdjust="spacingAndGlyphs">0</text>
<text class="tk" x="1850.96" y="804.3" font-size="19.8" textLength="23.02" lengthAdjust="spacingAndGlyphs">50</text>
<text class="lab" transform="translate(1753.1 797.6)"><tspan class="fi" x="1.64" y="0.36" font-size="26.39" textLength="10.11" lengthAdjust="spacingAndGlyphs">f</tspan><tspan class="r" x="8.31" y="5" font-size="20.92" textLength="12.71" lengthAdjust="spacingAndGlyphs">1</tspan> <tspan class="r" x="26.8" y="2.52" font-size="33.94" textLength="7.12" lengthAdjust="spacingAndGlyphs">[</tspan><tspan class="r" x="33.07" y="0" font-size="28.85" textLength="32.35" lengthAdjust="spacingAndGlyphs">Hz</tspan><tspan class="r" x="65.27" y="2.52" font-size="33.94" textLength="6.96" lengthAdjust="spacingAndGlyphs">]</tspan></text>
<text class="lab" transform="translate(1684.5 932) rotate(-90)"><tspan class="fi" x="1.64" y="0.36" font-size="26.39" textLength="10.11" lengthAdjust="spacingAndGlyphs">f</tspan><tspan class="r" x="9.6" y="5" font-size="20.76" textLength="11.12" lengthAdjust="spacingAndGlyphs">2</tspan> <tspan class="r" x="26.8" y="2.52" font-size="33.94" textLength="7.12" lengthAdjust="spacingAndGlyphs">[</tspan><tspan class="r" x="33.07" y="0" font-size="28.85" textLength="32.35" lengthAdjust="spacingAndGlyphs">Hz</tspan><tspan class="r" x="65.27" y="2.52" font-size="33.94" textLength="6.96" lengthAdjust="spacingAndGlyphs">]</tspan></text>
</g>
<path d="M1855.55 843.35h1.3v1.3h-1.3zM1858.95 845.95h1.1v1.1h-1.1zM1867.8 845.8h5v1.4h-5zM1864.9 873.8h1.8v1.8h-1.8zM1858.45 892.15h1.5v1.5h-1.5zM1820.9 906.65h1.8v1.3h-1.8zM1847.2 933.75h1.6v1.3h-1.6zM1852.1 933.75h1.6v1.3h-1.6zM1858.4 933.75h1.6v1.3h-1.6zM1864.5 933.75h1.6v1.3h-1.6zM1866.25 933.8h8.5v1.6h-8.5zM1867 931.6h2v2h-2zM1870.8 935.6h2v2h-2z" fill="#000"/>
<path d="M1870.3 814.7L1870.3 973.6" stroke="#000" stroke-width="1.5"/>
<path d="M1869.3 820L1869.3 960" stroke="#000" stroke-width="1" stroke-dasharray="1.5 5 2 9 1.2 4 3 11"/>
<path d="M146.96 547.8H372.8" stroke="#333" stroke-width="0.9" stroke-dasharray="3.3 2.1"/>
<path d="M271.17 599.3L271.17 548.39L275.2 541.13L279.23 537.1L282.26 537.1L286.29 541.73L289.31 542.14L292.34 546.17L292.74 546.84L292.74 599.3Z" fill="#b7b7b7"/>
<path d="M276.81 443.3V601.3" stroke="#f27878" stroke-width="0.9"/>
<path d="M285.28 443.3V601.3" stroke="#f27878" stroke-width="0.9"/>
<path d="M277.82 599.3L277.82 538.51L279.23 537.1L282.26 537.1L285.08 540.34L285.08 599.3Z" fill="#000"/>
<path d="M209.48 561.04V601.3" stroke="#5a5ae6" stroke-width="0.9"/>
<path d="M158.27 586.49L163.31 585.89L169.35 582.46L174.4 577.42L179.44 567.34L183.47 558.27L187.5 554.84L191.53 551.21L196.57 551.21L201.61 552.62L205.65 556.25L209.68 561.29L215.73 569.35L221.77 576.41L227.82 581.45L231.85 584.48L237.9 582.06L244.96 579.03L252.02 573.79L258.06 568.35L264.11 560.28L270.16 550.2L275.2 541.13L279.23 537.1L282.26 537.1L286.29 541.73L289.31 542.14L292.34 546.17L298.39 556.25L304.44 563.31L310.48 568.35L314.52 570.36L320.56 571.77L324.6 570.97L330.65 572.38L336.69 574.4L340.73 572.98L344.76 569.76L350.81 568.95L356.85 566.94L362.5 565.32" fill="none" stroke="#222" stroke-width="0.9" stroke-linejoin="round"/>
<path d="M209.48 497.78V516.35" stroke="#3c3cf0" stroke-width="0.9"/>
<path d="M206.88 513.85H212.08L209.48 519.35Z" fill="#1010e0"/>
<path d="M147.16 442.8V601.2H372.8" fill="none" stroke="#3c3c3c" stroke-width="1.3"/>
<path d="M146.96 443.3H154.86M146.96 486.5H149.66M146.96 475.61H149.66M146.96 467.89H149.66M146.96 461.9H152.36M146.96 457.01H149.66M146.96 452.87H149.66M146.96 449.29H149.66M146.96 446.13H149.66M146.96 505.1H154.86M146.96 548.3H149.66M146.96 537.41H149.66M146.96 529.69H149.66M146.96 523.7H152.36M146.96 518.81H149.66M146.96 514.67H149.66M146.96 511.09H149.66M146.96 507.93H149.66M146.96 566.9H154.86M146.96 599.21H149.66M146.96 591.49H149.66M146.96 585.5H152.36M146.96 580.61H149.66M146.96 576.47H149.66M146.96 572.89H149.66M146.96 569.73H149.66M157.26 601.3V607.1M198.31 601.3V607.1M239.35 601.3V607.1M280.4 601.3V607.1M321.45 601.3V607.1M362.5 601.3V607.1" stroke="#333" stroke-width="0.95"/>
<text class="tk" x="105.31" y="450.55" font-size="19.6" textLength="37.96" lengthAdjust="spacingAndGlyphs">1.00</text>
<text class="tk" x="105.31" y="512.35" font-size="19.6" textLength="37.96" lengthAdjust="spacingAndGlyphs">0.10</text>
<text class="tk" x="105.5" y="574.15" font-size="19.6" textLength="37.96" lengthAdjust="spacingAndGlyphs">0.01</text>
<text class="tk" x="155.34" y="624.7" font-size="19.6" textLength="11.39" lengthAdjust="spacingAndGlyphs">0</text>
<text class="tk" x="341.28" y="624.7" font-size="19.6" textLength="22.78" lengthAdjust="spacingAndGlyphs">50</text>
<text class="lab" transform="translate(227.86 634.9)"><tspan class="fi" x="1.64" y="0.36" font-size="26.39" textLength="10.11" lengthAdjust="spacingAndGlyphs">f</tspan> <tspan class="r" x="20.5" y="2.52" font-size="33.94" textLength="7.12" lengthAdjust="spacingAndGlyphs">[</tspan><tspan class="r" x="26.77" y="0" font-size="28.85" textLength="32.35" lengthAdjust="spacingAndGlyphs">Hz</tspan><tspan class="r" x="58.97" y="2.52" font-size="33.94" textLength="6.96" lengthAdjust="spacingAndGlyphs">]</tspan></text>
<text transform="translate(68.6 554.1) rotate(-90)"><tspan class="cd" x="-1.07" y="0.03" font-size="22.11" textLength="66.31" lengthAdjust="spacingAndGlyphs">Causal</tspan> <tspan class="cd" x="-29.5" y="20" font-size="21.93" textLength="121.99" lengthAdjust="spacingAndGlyphs">dependency</tspan></text>
<path d="M146.96 1146.3H372.8" stroke="#333" stroke-width="0.9" stroke-dasharray="3.3 2.1"/>
<path d="M196.57 1197.8L196.57 1145.24L197.58 1143.23L202.62 1132.14L207.66 1125.08L211.69 1121.45L214.72 1121.05L217.74 1123.06L221.77 1128.71L225.81 1137.18L230.85 1145.24L231.25 1145.73L231.25 1197.8Z" fill="#b7b7b7"/>
<path d="M213.51 1041.8V1199.8" stroke="#f27878" stroke-width="0.9"/>
<path d="M221.98 1041.8V1199.8" stroke="#f27878" stroke-width="0.9"/>
<path d="M214.31 1197.8L214.31 1121.1L214.72 1121.05L217.74 1123.06L221.77 1128.71L222.78 1130.83L222.78 1197.8Z" fill="#000"/>
<path d="M255.65 1167.02V1199.8" stroke="#5a5ae6" stroke-width="0.9"/>
<path d="M164.31 1197.06L168.35 1195.24L171.37 1191.61L175.4 1183.55L180.44 1176.49L185.48 1167.02L191.53 1155.32L197.58 1143.23L202.62 1132.14L207.66 1125.08L211.69 1121.45L214.72 1121.05L217.74 1123.06L221.77 1128.71L225.81 1137.18L230.85 1145.24L235.89 1151.29L240.93 1156.33L245.97 1159.76L251.01 1163.39L255.65 1167.02L261.09 1167.62L266.13 1166.81L272.18 1166.41L278.23 1163.79L284.27 1163.39L290.32 1162.38L296.37 1161.37L301.41 1160.97L306.45 1157.74L310.48 1154.92L314.52 1154.52L318.55 1152.9L321.57 1152.3L325.6 1154.31L330.65 1156.33L335.69 1160.36L340.73 1164.4L344.76 1168.43L349.8 1171.85L354.84 1173.87L362.5 1175.48" fill="none" stroke="#222" stroke-width="0.9" stroke-linejoin="round"/>
<path d="M255.65 1090.81V1108.98" stroke="#3c3cf0" stroke-width="0.9"/>
<path d="M253.05 1106.48H258.25L255.65 1111.98Z" fill="#1010e0"/>
<path d="M147.16 1041.3V1199.5H372.8" fill="none" stroke="#3c3c3c" stroke-width="1.3"/>
<path d="M146.96 1041.8H154.86M146.96 1085H149.66M146.96 1074.11H149.66M146.96 1066.39H149.66M146.96 1060.4H152.36M146.96 1055.51H149.66M146.96 1051.37H149.66M146.96 1047.79H149.66M146.96 1044.63H149.66M146.96 1103.6H154.86M146.96 1146.8H149.66M146.96 1135.91H149.66M146.96 1128.19H149.66M146.96 1122.2H152.36M146.96 1117.31H149.66M146.96 1113.17H149.66M146.96 1109.59H149.66M146.96 1106.43H149.66M146.96 1165.4H154.86M146.96 1197.71H149.66M146.96 1189.99H149.66M146.96 1184H152.36M146.96 1179.11H149.66M146.96 1174.97H149.66M146.96 1171.39H149.66M146.96 1168.23H149.66M157.26 1199.8V1205.6M198.31 1199.8V1205.6M239.35 1199.8V1205.6M280.4 1199.8V1205.6M321.45 1199.8V1205.6M362.5 1199.8V1205.6" stroke="#333" stroke-width="0.95"/>
<text class="tk" x="105.31" y="1049.05" font-size="19.6" textLength="37.96" lengthAdjust="spacingAndGlyphs">1.00</text>
<text class="tk" x="105.31" y="1110.85" font-size="19.6" textLength="37.96" lengthAdjust="spacingAndGlyphs">0.10</text>
<text class="tk" x="105.5" y="1172.65" font-size="19.6" textLength="37.96" lengthAdjust="spacingAndGlyphs">0.01</text>
<text class="tk" x="155.34" y="1223.2" font-size="19.6" textLength="11.39" lengthAdjust="spacingAndGlyphs">0</text>
<text class="tk" x="341.28" y="1223.2" font-size="19.6" textLength="22.78" lengthAdjust="spacingAndGlyphs">50</text>
<text class="lab" transform="translate(227.86 1233.4)"><tspan class="fi" x="1.64" y="0.36" font-size="26.39" textLength="10.11" lengthAdjust="spacingAndGlyphs">f</tspan> <tspan class="r" x="20.5" y="2.52" font-size="33.94" textLength="7.12" lengthAdjust="spacingAndGlyphs">[</tspan><tspan class="r" x="26.77" y="0" font-size="28.85" textLength="32.35" lengthAdjust="spacingAndGlyphs">Hz</tspan><tspan class="r" x="58.97" y="2.52" font-size="33.94" textLength="6.96" lengthAdjust="spacingAndGlyphs">]</tspan></text>
<text transform="translate(68.6 1152.6) rotate(-90)"><tspan class="cd" x="-1.07" y="0.03" font-size="22.11" textLength="66.31" lengthAdjust="spacingAndGlyphs">Causal</tspan> <tspan class="cd" x="-29.5" y="20" font-size="21.93" textLength="121.99" lengthAdjust="spacingAndGlyphs">dependency</tspan></text>
<path d="M452.97 547.8H678.81" stroke="#333" stroke-width="0.9" stroke-dasharray="3.3 2.1"/>
<path d="M497.54 599.3L497.54 546.65L497.94 546.17L502.98 543.55L507.02 544.76L509.03 546.98L509.03 599.3Z" fill="#b7b7b7"/>
<path d="M573.15 599.3L573.15 546.94L576.57 542.14L581.61 537.5L583.63 537.1L587.06 535.48L590.69 537.5L593.71 542.14L596.73 548.19L596.73 599.3Z" fill="#b7b7b7"/>
<path d="M582.62 443.3V601.3" stroke="#f27878" stroke-width="0.9"/>
<path d="M591.49 443.3V601.3" stroke="#f27878" stroke-width="0.9"/>
<path d="M583.02 599.3L583.02 537.22L583.63 537.1L587.06 535.48L590.69 537.5L591.09 538.12L591.09 599.3Z" fill="#000"/>
<path d="M515.48 554.37V601.3" stroke="#9c9cf2" stroke-width="0.9"/>
<path d="M464.27 583.47L468.71 582.46L474.76 578.43L480.81 568.95L486.85 561.29L492.9 552.22L497.94 546.17L502.98 543.55L507.02 544.76L511.05 549.19L517.1 556.25L523.15 562.9L529.19 566.33L536.25 571.77L541.29 572.78L545.32 573.39L551.37 570.97L557.42 565.73L561.45 563.71L565.48 559.27L571.53 549.19L576.57 542.14L581.61 537.5L583.63 537.1L587.06 535.48L590.69 537.5L593.71 542.14L597.74 550.2L601.77 556.25L607.82 562.3L611.85 564.31L619.92 571.77L623.95 572.98L627.98 575.4L634.03 572.58L640.08 574.4L645.12 576.61L652.18 571.98L658.23 571.37L668.51 568.35" fill="none" stroke="#222" stroke-width="0.9" stroke-linejoin="round"/>
<path d="M515.48 472.18V490.75" stroke="#3c3cf0" stroke-width="0.9"/>
<path d="M512.88 488.25H518.08L515.48 493.75Z" fill="#1010e0"/>
<path d="M453.17 442.8V601.2H678.81" fill="none" stroke="#3c3c3c" stroke-width="1.3"/>
<path d="M452.97 443.3H460.87M452.97 486.5H455.67M452.97 475.61H455.67M452.97 467.89H455.67M452.97 461.9H458.37M452.97 457.01H455.67M452.97 452.87H455.67M452.97 449.29H455.67M452.97 446.13H455.67M452.97 505.1H460.87M452.97 548.3H455.67M452.97 537.41H455.67M452.97 529.69H455.67M452.97 523.7H458.37M452.97 518.81H455.67M452.97 514.67H455.67M452.97 511.09H455.67M452.97 507.93H455.67M452.97 566.9H460.87M452.97 599.21H455.67M452.97 591.49H455.67M452.97 585.5H458.37M452.97 580.61H455.67M452.97 576.47H455.67M452.97 572.89H455.67M452.97 569.73H455.67M463.27 601.3V607.1M504.31 601.3V607.1M545.36 601.3V607.1M586.41 601.3V607.1M627.46 601.3V607.1M668.51 601.3V607.1" stroke="#333" stroke-width="0.95"/>
<text class="tk" x="411.31" y="450.55" font-size="19.6" textLength="37.96" lengthAdjust="spacingAndGlyphs">1.00</text>
<text class="tk" x="411.31" y="512.35" font-size="19.6" textLength="37.96" lengthAdjust="spacingAndGlyphs">0.10</text>
<text class="tk" x="411.51" y="574.15" font-size="19.6" textLength="37.96" lengthAdjust="spacingAndGlyphs">0.01</text>
<text class="tk" x="461.35" y="624.7" font-size="19.6" textLength="11.39" lengthAdjust="spacingAndGlyphs">0</text>
<text class="tk" x="647.29" y="624.7" font-size="19.6" textLength="22.78" lengthAdjust="spacingAndGlyphs">50</text>
<text class="lab" transform="translate(533.87 634.9)"><tspan class="fi" x="1.64" y="0.36" font-size="26.39" textLength="10.11" lengthAdjust="spacingAndGlyphs">f</tspan> <tspan class="r" x="20.5" y="2.52" font-size="33.94" textLength="7.12" lengthAdjust="spacingAndGlyphs">[</tspan><tspan class="r" x="26.77" y="0" font-size="28.85" textLength="32.35" lengthAdjust="spacingAndGlyphs">Hz</tspan><tspan class="r" x="58.97" y="2.52" font-size="33.94" textLength="6.96" lengthAdjust="spacingAndGlyphs">]</tspan></text>
<path d="M452.97 1146.3H678.81" stroke="#333" stroke-width="0.9" stroke-dasharray="3.3 2.1"/>
<path d="M499.35 1197.8L499.35 1146.22L499.96 1144.84L505 1134.15L510.04 1126.09L515.08 1120.04L519.11 1117.42L522.14 1117.62L525.16 1119.44L529.19 1123.06L534.23 1129.11L539.27 1135.16L544.31 1141.21L548.55 1145.95L548.55 1197.8Z" fill="#b7b7b7"/>
<path d="M519.31 1041.8V1199.8" stroke="#f27878" stroke-width="0.9"/>
<path d="M527.58 1041.8V1199.8" stroke="#f27878" stroke-width="0.9"/>
<path d="M519.52 1197.8L519.52 1117.45L522.14 1117.62L525.16 1119.44L527.78 1121.79L527.78 1197.8Z" fill="#000"/>
<path d="M561.05 1154.64V1199.8" stroke="#a6a6f6" stroke-width="1.8"/>
<path d="M470.32 1197.06L474.76 1192.62L478.79 1188.59L483.83 1178.51L489.88 1167.42L494.92 1156.33L499.96 1144.84L505 1134.15L510.04 1126.09L515.08 1120.04L519.11 1117.42L522.14 1117.62L525.16 1119.44L529.19 1123.06L534.23 1129.11L539.27 1135.16L544.31 1141.21L549.35 1146.85L555.4 1150.69L561.45 1154.92L567.5 1157.74L573.55 1159.35L581.61 1160.77L589.68 1160.77L597.74 1161.77L605.81 1161.98L611.85 1163.39L616.9 1161.98L621.94 1161.37L626.98 1163.39L632.02 1165.81L636.05 1169.84L640.08 1175.48L645.12 1180.52L650.16 1183.95L655.2 1186.57L660.24 1189.6L668.51 1190.2" fill="none" stroke="#222" stroke-width="0.9" stroke-linejoin="round"/>
<path d="M561.05 1090.81V1108.98" stroke="#3c3cf0" stroke-width="0.9"/>
<path d="M558.45 1106.48H563.65L561.05 1111.98Z" fill="#1010e0"/>
<path d="M453.17 1041.3V1199.5H678.81" fill="none" stroke="#3c3c3c" stroke-width="1.3"/>
<path d="M452.97 1041.8H460.87M452.97 1085H455.67M452.97 1074.11H455.67M452.97 1066.39H455.67M452.97 1060.4H458.37M452.97 1055.51H455.67M452.97 1051.37H455.67M452.97 1047.79H455.67M452.97 1044.63H455.67M452.97 1103.6H460.87M452.97 1146.8H455.67M452.97 1135.91H455.67M452.97 1128.19H455.67M452.97 1122.2H458.37M452.97 1117.31H455.67M452.97 1113.17H455.67M452.97 1109.59H455.67M452.97 1106.43H455.67M452.97 1165.4H460.87M452.97 1197.71H455.67M452.97 1189.99H455.67M452.97 1184H458.37M452.97 1179.11H455.67M452.97 1174.97H455.67M452.97 1171.39H455.67M452.97 1168.23H455.67M463.27 1199.8V1205.6M504.31 1199.8V1205.6M545.36 1199.8V1205.6M586.41 1199.8V1205.6M627.46 1199.8V1205.6M668.51 1199.8V1205.6" stroke="#333" stroke-width="0.95"/>
<text class="tk" x="411.31" y="1049.05" font-size="19.6" textLength="37.96" lengthAdjust="spacingAndGlyphs">1.00</text>
<text class="tk" x="411.31" y="1110.85" font-size="19.6" textLength="37.96" lengthAdjust="spacingAndGlyphs">0.10</text>
<text class="tk" x="411.51" y="1172.65" font-size="19.6" textLength="37.96" lengthAdjust="spacingAndGlyphs">0.01</text>
<text class="tk" x="461.35" y="1223.2" font-size="19.6" textLength="11.39" lengthAdjust="spacingAndGlyphs">0</text>
<text class="tk" x="647.29" y="1223.2" font-size="19.6" textLength="22.78" lengthAdjust="spacingAndGlyphs">50</text>
<text class="lab" transform="translate(533.87 1233.4)"><tspan class="fi" x="1.64" y="0.36" font-size="26.39" textLength="10.11" lengthAdjust="spacingAndGlyphs">f</tspan> <tspan class="r" x="20.5" y="2.52" font-size="33.94" textLength="7.12" lengthAdjust="spacingAndGlyphs">[</tspan><tspan class="r" x="26.77" y="0" font-size="28.85" textLength="32.35" lengthAdjust="spacingAndGlyphs">Hz</tspan><tspan class="r" x="58.97" y="2.52" font-size="33.94" textLength="6.96" lengthAdjust="spacingAndGlyphs">]</tspan></text>
<path d="M758.33 547.8H984.37" stroke="#333" stroke-width="0.9" stroke-dasharray="3.3 2.1"/>
<path d="M797.46 599.3L797.46 547.3L800.89 541.13L804.92 538.71L807.94 537.1L811.98 538.71L816.01 542.14L820.04 547.78L820.04 599.3Z" fill="#b7b7b7"/>
<path d="M875.48 599.3L875.48 548.19L881.53 540.12L886.57 534.07L889.6 532.46L892.62 531.05L895.65 532.06L898.67 536.09L903.71 546.17L903.71 599.3Z" fill="#b7b7b7"/>
<path d="M888.59 443.3V601.3" stroke="#f27878" stroke-width="0.9"/>
<path d="M897.06 443.3V601.3" stroke="#f27878" stroke-width="0.9"/>
<path d="M889.19 599.3L889.19 532.67L889.6 532.46L892.62 531.05L895.65 532.06L897.06 533.94L897.06 599.3Z" fill="#000"/>
<path d="M821.45 549.56V601.3" stroke="#5a5ae6" stroke-width="0.9"/>
<path d="M769.64 579.03L774.68 577.02L779.72 575.4L784.76 569.35L790.81 560.28L795.85 550.2L800.89 541.13L804.92 538.71L807.94 537.1L811.98 538.71L816.01 542.14L821.05 549.19L826.09 553.83L831.13 556.65L838.19 560.89L843.23 562.3L848.27 564.31L853.31 563.31L859.35 559.88L864.4 558.27L869.44 554.23L875.48 548.19L881.53 540.12L886.57 534.07L889.6 532.46L892.62 531.05L895.65 532.06L898.67 536.09L903.71 546.17L909.76 557.26L915.81 564.92L921.85 569.35L927.9 574.4L931.94 575.81L935.97 577.42L938.99 575L944.03 575.4L948.06 577.02L952.1 575.4L958.15 576.41L964.19 575.81L968.23 576.01L974.07 575.2" fill="none" stroke="#222" stroke-width="0.9" stroke-linejoin="round"/>
<path d="M821.45 472.18V490.75" stroke="#3c3cf0" stroke-width="0.9"/>
<path d="M818.85 488.25H824.05L821.45 493.75Z" fill="#1010e0"/>
<path d="M758.53 442.8V601.2H984.37" fill="none" stroke="#3c3c3c" stroke-width="1.3"/>
<path d="M758.33 443.3H766.23M758.33 486.5H761.03M758.33 475.61H761.03M758.33 467.89H761.03M758.33 461.9H763.73M758.33 457.01H761.03M758.33 452.87H761.03M758.33 449.29H761.03M758.33 446.13H761.03M758.33 505.1H766.23M758.33 548.3H761.03M758.33 537.41H761.03M758.33 529.69H761.03M758.33 523.7H763.73M758.33 518.81H761.03M758.33 514.67H761.03M758.33 511.09H761.03M758.33 507.93H761.03M758.33 566.9H766.23M758.33 599.21H761.03M758.33 591.49H761.03M758.33 585.5H763.73M758.33 580.61H761.03M758.33 576.47H761.03M758.33 572.89H761.03M758.33 569.73H761.03M768.63 601.3V607.1M809.72 601.3V607.1M850.81 601.3V607.1M891.9 601.3V607.1M932.98 601.3V607.1M974.07 601.3V607.1" stroke="#333" stroke-width="0.95"/>
<text class="tk" x="716.68" y="450.55" font-size="19.6" textLength="37.96" lengthAdjust="spacingAndGlyphs">1.00</text>
<text class="tk" x="716.68" y="512.35" font-size="19.6" textLength="37.96" lengthAdjust="spacingAndGlyphs">0.10</text>
<text class="tk" x="716.87" y="574.15" font-size="19.6" textLength="37.96" lengthAdjust="spacingAndGlyphs">0.01</text>
<text class="tk" x="766.71" y="624.7" font-size="19.6" textLength="11.39" lengthAdjust="spacingAndGlyphs">0</text>
<text class="tk" x="952.85" y="624.7" font-size="19.6" textLength="22.78" lengthAdjust="spacingAndGlyphs">50</text>
<text class="lab" transform="translate(839.23 634.9)"><tspan class="fi" x="1.64" y="0.36" font-size="26.39" textLength="10.11" lengthAdjust="spacingAndGlyphs">f</tspan> <tspan class="r" x="20.5" y="2.52" font-size="33.94" textLength="7.12" lengthAdjust="spacingAndGlyphs">[</tspan><tspan class="r" x="26.77" y="0" font-size="28.85" textLength="32.35" lengthAdjust="spacingAndGlyphs">Hz</tspan><tspan class="r" x="58.97" y="2.52" font-size="33.94" textLength="6.96" lengthAdjust="spacingAndGlyphs">]</tspan></text>
<path d="M758.33 1146.3H984.37" stroke="#333" stroke-width="0.9" stroke-dasharray="3.3 2.1"/>
<path d="M804.31 1197.8L804.31 1143.98L808.95 1134.15L813.99 1125.08L819.03 1116.61L823.06 1112.98L827.1 1112.18L831.13 1113.99L835.16 1117.42L840.2 1123.47L845.24 1129.52L850.28 1135.16L855.32 1139.6L861.37 1143.23L863.99 1145.11L863.99 1197.8Z" fill="#b7b7b7"/>
<path d="M826.49 1041.8V1199.8" stroke="#f27878" stroke-width="0.9"/>
<path d="M834.56 1041.8V1199.8" stroke="#f27878" stroke-width="0.9"/>
<path d="M826.49 1197.8L826.49 1112.3L827.1 1112.18L831.13 1113.99L834.76 1117.08L834.76 1197.8Z" fill="#000"/>
<path d="M866.61 1146.95V1199.8" stroke="#5a5ae6" stroke-width="0.9"/>
<path d="M776.29 1197.66L781.73 1189.6L787.78 1179.52L792.82 1168.43L798.87 1155.32L803.91 1144.84L808.95 1134.15L813.99 1125.08L819.03 1116.61L823.06 1112.98L827.1 1112.18L831.13 1113.99L835.16 1117.42L840.2 1123.47L845.24 1129.52L850.28 1135.16L855.32 1139.6L861.37 1143.23L866.41 1146.85L871.45 1149.27L877.5 1151.29L883.55 1153.31L889.6 1153.71L897.66 1156.33L901.69 1154.72L909.76 1155.12L917.82 1155.32L923.87 1156.53L928.91 1159.76L933.95 1160.77L938.99 1165.4L944.03 1170.44L950.08 1173.87L955.12 1178.51L960.16 1183.55L966.21 1185.56L974.07 1186.37" fill="none" stroke="#222" stroke-width="0.9" stroke-linejoin="round"/>
<path d="M866.61 1090.81V1108.98" stroke="#3c3cf0" stroke-width="0.9"/>
<path d="M864.01 1106.48H869.21L866.61 1111.98Z" fill="#1010e0"/>
<path d="M758.53 1041.3V1199.5H984.37" fill="none" stroke="#3c3c3c" stroke-width="1.3"/>
<path d="M758.33 1041.8H766.23M758.33 1085H761.03M758.33 1074.11H761.03M758.33 1066.39H761.03M758.33 1060.4H763.73M758.33 1055.51H761.03M758.33 1051.37H761.03M758.33 1047.79H761.03M758.33 1044.63H761.03M758.33 1103.6H766.23M758.33 1146.8H761.03M758.33 1135.91H761.03M758.33 1128.19H761.03M758.33 1122.2H763.73M758.33 1117.31H761.03M758.33 1113.17H761.03M758.33 1109.59H761.03M758.33 1106.43H761.03M758.33 1165.4H766.23M758.33 1197.71H761.03M758.33 1189.99H761.03M758.33 1184H763.73M758.33 1179.11H761.03M758.33 1174.97H761.03M758.33 1171.39H761.03M758.33 1168.23H761.03M768.63 1199.8V1205.6M809.72 1199.8V1205.6M850.81 1199.8V1205.6M891.9 1199.8V1205.6M932.98 1199.8V1205.6M974.07 1199.8V1205.6" stroke="#333" stroke-width="0.95"/>
<text class="tk" x="716.68" y="1049.05" font-size="19.6" textLength="37.96" lengthAdjust="spacingAndGlyphs">1.00</text>
<text class="tk" x="716.68" y="1110.85" font-size="19.6" textLength="37.96" lengthAdjust="spacingAndGlyphs">0.10</text>
<text class="tk" x="716.87" y="1172.65" font-size="19.6" textLength="37.96" lengthAdjust="spacingAndGlyphs">0.01</text>
<text class="tk" x="766.71" y="1223.2" font-size="19.6" textLength="11.39" lengthAdjust="spacingAndGlyphs">0</text>
<text class="tk" x="952.85" y="1223.2" font-size="19.6" textLength="22.78" lengthAdjust="spacingAndGlyphs">50</text>
<text class="lab" transform="translate(839.23 1233.4)"><tspan class="fi" x="1.64" y="0.36" font-size="26.39" textLength="10.11" lengthAdjust="spacingAndGlyphs">f</tspan> <tspan class="r" x="20.5" y="2.52" font-size="33.94" textLength="7.12" lengthAdjust="spacingAndGlyphs">[</tspan><tspan class="r" x="26.77" y="0" font-size="28.85" textLength="32.35" lengthAdjust="spacingAndGlyphs">Hz</tspan><tspan class="r" x="58.97" y="2.52" font-size="33.94" textLength="6.96" lengthAdjust="spacingAndGlyphs">]</tspan></text>
<path d="M1064.3 547.8H1289.94" stroke="#333" stroke-width="0.9" stroke-dasharray="3.3 2.1"/>
<path d="M1095.16 599.3L1095.16 547.38L1099.8 538.1L1104.84 530.04L1109.88 524.6L1112.9 520.97L1115.93 519.35L1118.95 520.36L1122.98 523.39L1127.02 526.61L1131.05 532.06L1135.08 536.09L1141.13 539.11L1145.16 540.73L1149.19 541.94L1154.23 541.94L1159.27 541.13L1165.32 539.11L1171.37 537.1L1177.42 532.06L1183.47 526.01L1189.52 521.57L1193.55 519.96L1197.58 518.35L1201.61 520.36L1205.65 523.99L1210.69 532.06L1213.71 539.11L1217.74 547.18L1218.15 547.82L1218.15 599.3Z" fill="#b7b7b7"/>
<path d="M1194.56 443.3V601.3" stroke="#f27878" stroke-width="0.9"/>
<path d="M1203.02 443.3V601.3" stroke="#f27878" stroke-width="0.9"/>
<path d="M1194.56 599.3L1194.56 519.56L1197.58 518.35L1201.61 520.36L1202.62 521.27L1202.62 599.3Z" fill="#000"/>
<path d="M1126.61 526.29V601.3" stroke="#5a5ae6" stroke-width="0.9"/>
<path d="M1075.6 565.93L1080.65 564.31L1085.69 560.89L1090.73 555.24L1094.76 548.19L1099.8 538.1L1104.84 530.04L1109.88 524.6L1112.9 520.97L1115.93 519.35L1118.95 520.36L1122.98 523.39L1127.02 526.61L1131.05 532.06L1135.08 536.09L1141.13 539.11L1145.16 540.73L1149.19 541.94L1154.23 541.94L1159.27 541.13L1165.32 539.11L1171.37 537.1L1177.42 532.06L1183.47 526.01L1189.52 521.57L1193.55 519.96L1197.58 518.35L1201.61 520.36L1205.65 523.99L1210.69 532.06L1213.71 539.11L1217.74 547.18L1221.77 553.63L1227.82 562.3L1233.87 568.95L1238.91 572.98L1243.95 575L1250 573.99L1256.05 574.6L1262.1 575.4L1268.15 575.81L1274.19 574.4L1279.64 574.19" fill="none" stroke="#222" stroke-width="0.9" stroke-linejoin="round"/>
<path d="M1126.61 472.18V490.75" stroke="#3c3cf0" stroke-width="0.9"/>
<path d="M1124.01 488.25H1129.21L1126.61 493.75Z" fill="#1010e0"/>
<path d="M1064.5 442.8V601.2H1289.94" fill="none" stroke="#3c3c3c" stroke-width="1.3"/>
<path d="M1064.3 443.3H1072.2M1064.3 486.5H1067M1064.3 475.61H1067M1064.3 467.89H1067M1064.3 461.9H1069.7M1064.3 457.01H1067M1064.3 452.87H1067M1064.3 449.29H1067M1064.3 446.13H1067M1064.3 505.1H1072.2M1064.3 548.3H1067M1064.3 537.41H1067M1064.3 529.69H1067M1064.3 523.7H1069.7M1064.3 518.81H1067M1064.3 514.67H1067M1064.3 511.09H1067M1064.3 507.93H1067M1064.3 566.9H1072.2M1064.3 599.21H1067M1064.3 591.49H1067M1064.3 585.5H1069.7M1064.3 580.61H1067M1064.3 576.47H1067M1064.3 572.89H1067M1064.3 569.73H1067M1074.6 601.3V607.1M1115.6 601.3V607.1M1156.61 601.3V607.1M1197.62 601.3V607.1M1238.63 601.3V607.1M1279.64 601.3V607.1" stroke="#333" stroke-width="0.95"/>
<text class="tk" x="1022.65" y="450.55" font-size="19.6" textLength="37.96" lengthAdjust="spacingAndGlyphs">1.00</text>
<text class="tk" x="1022.65" y="512.35" font-size="19.6" textLength="37.96" lengthAdjust="spacingAndGlyphs">0.10</text>
<text class="tk" x="1022.84" y="574.15" font-size="19.6" textLength="37.96" lengthAdjust="spacingAndGlyphs">0.01</text>
<text class="tk" x="1072.68" y="624.7" font-size="19.6" textLength="11.39" lengthAdjust="spacingAndGlyphs">0</text>
<text class="tk" x="1258.42" y="624.7" font-size="19.6" textLength="22.78" lengthAdjust="spacingAndGlyphs">50</text>
<text class="lab" transform="translate(1145.2 634.9)"><tspan class="fi" x="1.64" y="0.36" font-size="26.39" textLength="10.11" lengthAdjust="spacingAndGlyphs">f</tspan> <tspan class="r" x="20.5" y="2.52" font-size="33.94" textLength="7.12" lengthAdjust="spacingAndGlyphs">[</tspan><tspan class="r" x="26.77" y="0" font-size="28.85" textLength="32.35" lengthAdjust="spacingAndGlyphs">Hz</tspan><tspan class="r" x="58.97" y="2.52" font-size="33.94" textLength="6.96" lengthAdjust="spacingAndGlyphs">]</tspan></text>
<path d="M1064.3 1146.3H1289.94" stroke="#333" stroke-width="0.9" stroke-dasharray="3.3 2.1"/>
<path d="M1099.19 1197.8L1099.19 1145.65L1102.82 1137.18L1108.87 1124.07L1114.92 1112.98L1120.97 1101.9L1126.01 1095.44L1131.05 1092.02L1135.08 1091.21L1139.11 1092.82L1144.15 1096.85L1149.19 1102.9L1155.24 1108.95L1161.29 1113.39L1167.34 1117.42L1173.39 1121.05L1181.45 1124.68L1189.52 1127.5L1197.58 1130.73L1203.63 1132.74L1209.68 1133.75L1215.73 1136.17L1221.77 1138.19L1227.82 1140.4L1232.86 1141.81L1236.9 1144.64L1239.92 1147.06L1239.92 1197.8Z" fill="#b7b7b7"/>
<path d="M1132.56 1041.8V1199.8" stroke="#f27878" stroke-width="0.9"/>
<path d="M1139.62 1041.8V1199.8" stroke="#f27878" stroke-width="0.9"/>
<path d="M1132.06 1197.8L1132.06 1091.81L1135.08 1091.21L1139.11 1092.82L1140.12 1093.63L1140.12 1197.8Z" fill="#000"/>
<path d="M1172.58 1120.56V1199.8" stroke="#5a5ae6" stroke-width="0.9"/>
<path d="M1075.6 1187.58L1080.65 1182.54L1085.69 1176.49L1090.73 1165.4L1096.77 1151.29L1102.82 1137.18L1108.87 1124.07L1114.92 1112.98L1120.97 1101.9L1126.01 1095.44L1131.05 1092.02L1135.08 1091.21L1139.11 1092.82L1144.15 1096.85L1149.19 1102.9L1155.24 1108.95L1161.29 1113.39L1167.34 1117.42L1173.39 1121.05L1181.45 1124.68L1189.52 1127.5L1197.58 1130.73L1203.63 1132.74L1209.68 1133.75L1215.73 1136.17L1221.77 1138.19L1227.82 1140.4L1232.86 1141.81L1236.9 1144.64L1241.94 1148.67L1246.98 1153.31L1252.02 1158.35L1257.06 1162.38L1262.1 1168.43L1267.14 1173.87L1272.18 1178.51L1279.64 1180.52" fill="none" stroke="#222" stroke-width="0.9" stroke-linejoin="round"/>
<path d="M1172.58 1069.64V1087.81" stroke="#3c3cf0" stroke-width="0.9"/>
<path d="M1169.98 1085.31H1175.18L1172.58 1090.81Z" fill="#1010e0"/>
<path d="M1064.5 1041.3V1199.5H1289.94" fill="none" stroke="#3c3c3c" stroke-width="1.3"/>
<path d="M1064.3 1041.8H1072.2M1064.3 1085H1067M1064.3 1074.11H1067M1064.3 1066.39H1067M1064.3 1060.4H1069.7M1064.3 1055.51H1067M1064.3 1051.37H1067M1064.3 1047.79H1067M1064.3 1044.63H1067M1064.3 1103.6H1072.2M1064.3 1146.8H1067M1064.3 1135.91H1067M1064.3 1128.19H1067M1064.3 1122.2H1069.7M1064.3 1117.31H1067M1064.3 1113.17H1067M1064.3 1109.59H1067M1064.3 1106.43H1067M1064.3 1165.4H1072.2M1064.3 1197.71H1067M1064.3 1189.99H1067M1064.3 1184H1069.7M1064.3 1179.11H1067M1064.3 1174.97H1067M1064.3 1171.39H1067M1064.3 1168.23H1067M1074.6 1199.8V1205.6M1115.6 1199.8V1205.6M1156.61 1199.8V1205.6M1197.62 1199.8V1205.6M1238.63 1199.8V1205.6M1279.64 1199.8V1205.6" stroke="#333" stroke-width="0.95"/>
<text class="tk" x="1022.65" y="1049.05" font-size="19.6" textLength="37.96" lengthAdjust="spacingAndGlyphs">1.00</text>
<text class="tk" x="1022.65" y="1110.85" font-size="19.6" textLength="37.96" lengthAdjust="spacingAndGlyphs">0.10</text>
<text class="tk" x="1022.84" y="1172.65" font-size="19.6" textLength="37.96" lengthAdjust="spacingAndGlyphs">0.01</text>
<text class="tk" x="1072.68" y="1223.2" font-size="19.6" textLength="11.39" lengthAdjust="spacingAndGlyphs">0</text>
<text class="tk" x="1258.42" y="1223.2" font-size="19.6" textLength="22.78" lengthAdjust="spacingAndGlyphs">50</text>
<text class="lab" transform="translate(1145.2 1233.4)"><tspan class="fi" x="1.64" y="0.36" font-size="26.39" textLength="10.11" lengthAdjust="spacingAndGlyphs">f</tspan> <tspan class="r" x="20.5" y="2.52" font-size="33.94" textLength="7.12" lengthAdjust="spacingAndGlyphs">[</tspan><tspan class="r" x="26.77" y="0" font-size="28.85" textLength="32.35" lengthAdjust="spacingAndGlyphs">Hz</tspan><tspan class="r" x="58.97" y="2.52" font-size="33.94" textLength="6.96" lengthAdjust="spacingAndGlyphs">]</tspan></text>
<path d="M1370.35 547.8H1595.58" stroke="#333" stroke-width="0.9" stroke-dasharray="3.3 2.1"/>
<path d="M1381.25 599.3L1381.25 543.55L1386.69 542.14L1392.74 538.1L1398.79 531.45L1404.84 521.98L1410.89 510.89L1416.94 498.79L1420.97 493.75L1425.4 491.33L1429.03 492.74L1433.06 496.77L1439.11 502.82L1445.16 507.86L1451.21 511.49L1457.26 514.11L1465.32 515.32L1471.37 514.52L1477.42 512.5L1483.47 509.48L1489.52 506.25L1495.56 503.43L1500.6 502.22L1505.65 502.42L1509.68 504.44L1513.71 508.87L1517.74 514.92L1521.77 521.98L1527.82 532.06L1532.86 541.13L1536.9 547.18L1536.9 599.3Z" fill="#b7b7b7"/>
<path d="M1500.6 443.3V601.3" stroke="#f27878" stroke-width="0.9"/>
<path d="M1508.67 443.3V601.3" stroke="#f27878" stroke-width="0.9"/>
<path d="M1500.2 599.3L1500.2 502.31L1500.6 502.22L1505.65 502.42L1508.27 503.73L1508.27 599.3Z" fill="#000"/>
<path d="M1432.46 496.17V601.3" stroke="#5a5ae6" stroke-width="0.9"/>
<path d="M1381.25 543.55L1386.69 542.14L1392.74 538.1L1398.79 531.45L1404.84 521.98L1410.89 510.89L1416.94 498.79L1420.97 493.75L1425.4 491.33L1429.03 492.74L1433.06 496.77L1439.11 502.82L1445.16 507.86L1451.21 511.49L1457.26 514.11L1465.32 515.32L1471.37 514.52L1477.42 512.5L1483.47 509.48L1489.52 506.25L1495.56 503.43L1500.6 502.22L1505.65 502.42L1509.68 504.44L1513.71 508.87L1517.74 514.92L1521.77 521.98L1527.82 532.06L1532.86 541.13L1536.9 547.18L1541.94 552.22L1547.98 556.85L1554.03 561.29L1558.06 560.69L1562.1 561.69L1568.15 564.31L1574.19 565.73L1580.24 565.32L1585.28 564.72" fill="none" stroke="#222" stroke-width="0.9" stroke-linejoin="round"/>
<path d="M1432.46 451.01V469.58" stroke="#3c3cf0" stroke-width="0.9"/>
<path d="M1429.86 467.08H1435.06L1432.46 472.58Z" fill="#1010e0"/>
<path d="M1370.55 442.8V601.2H1595.58" fill="none" stroke="#3c3c3c" stroke-width="1.3"/>
<path d="M1370.35 443.3H1378.25M1370.35 486.5H1373.05M1370.35 475.61H1373.05M1370.35 467.89H1373.05M1370.35 461.9H1375.75M1370.35 457.01H1373.05M1370.35 452.87H1373.05M1370.35 449.29H1373.05M1370.35 446.13H1373.05M1370.35 505.1H1378.25M1370.35 548.3H1373.05M1370.35 537.41H1373.05M1370.35 529.69H1373.05M1370.35 523.7H1375.75M1370.35 518.81H1373.05M1370.35 514.67H1373.05M1370.35 511.09H1373.05M1370.35 507.93H1373.05M1370.35 566.9H1378.25M1370.35 599.21H1373.05M1370.35 591.49H1373.05M1370.35 585.5H1375.75M1370.35 580.61H1373.05M1370.35 576.47H1373.05M1370.35 572.89H1373.05M1370.35 569.73H1373.05M1380.65 601.3V607.1M1421.57 601.3V607.1M1462.5 601.3V607.1M1503.43 601.3V607.1M1544.35 601.3V607.1M1585.28 601.3V607.1" stroke="#333" stroke-width="0.95"/>
<text class="tk" x="1328.69" y="450.55" font-size="19.6" textLength="37.96" lengthAdjust="spacingAndGlyphs">1.00</text>
<text class="tk" x="1328.69" y="512.35" font-size="19.6" textLength="37.96" lengthAdjust="spacingAndGlyphs">0.10</text>
<text class="tk" x="1328.89" y="574.15" font-size="19.6" textLength="37.96" lengthAdjust="spacingAndGlyphs">0.01</text>
<text class="tk" x="1378.73" y="624.7" font-size="19.6" textLength="11.39" lengthAdjust="spacingAndGlyphs">0</text>
<text class="tk" x="1564.06" y="624.7" font-size="19.6" textLength="22.78" lengthAdjust="spacingAndGlyphs">50</text>
<text class="lab" transform="translate(1451.25 634.9)"><tspan class="fi" x="1.64" y="0.36" font-size="26.39" textLength="10.11" lengthAdjust="spacingAndGlyphs">f</tspan> <tspan class="r" x="20.5" y="2.52" font-size="33.94" textLength="7.12" lengthAdjust="spacingAndGlyphs">[</tspan><tspan class="r" x="26.77" y="0" font-size="28.85" textLength="32.35" lengthAdjust="spacingAndGlyphs">Hz</tspan><tspan class="r" x="58.97" y="2.52" font-size="33.94" textLength="6.96" lengthAdjust="spacingAndGlyphs">]</tspan></text>
<path d="M1370.35 1146.3H1595.58" stroke="#333" stroke-width="0.9" stroke-dasharray="3.3 2.1"/>
<path d="M1392.34 1197.8L1392.34 1145.48L1392.74 1144.84L1398.79 1132.14L1404.84 1119.03L1410.89 1107.94L1416.94 1098.87L1422.98 1089.8L1429.03 1082.34L1435.08 1076.69L1441.13 1073.06L1446.17 1071.45L1451.21 1072.26L1457.26 1074.27L1463.31 1077.1L1471.37 1081.73L1479.44 1086.17L1487.5 1090.81L1495.56 1095.85L1503.63 1100.89L1511.69 1105.93L1519.76 1110.56L1527.82 1116.01L1535.89 1120.65L1543.95 1126.09L1552.02 1131.73L1557.06 1134.76L1561.09 1139.19L1563.1 1142.22L1568.15 1144.23L1571.57 1145.88L1571.57 1197.8Z" fill="#b7b7b7"/>
<path d="M1438 1041.8V1199.8" stroke="#f27878" stroke-width="0.9"/>
<path d="M1445.47 1041.8V1199.8" stroke="#f27878" stroke-width="0.9"/>
<path d="M1437.5 1197.8L1437.5 1075.24L1441.13 1073.06L1445.97 1071.52L1445.97 1197.8Z" fill="#000"/>
<path d="M1478.43 1085.61V1199.8" stroke="#5a5ae6" stroke-width="0.9"/>
<path d="M1381.25 1158.35L1384.68 1156.94L1388.71 1151.29L1392.74 1144.84L1398.79 1132.14L1404.84 1119.03L1410.89 1107.94L1416.94 1098.87L1422.98 1089.8L1429.03 1082.34L1435.08 1076.69L1441.13 1073.06L1446.17 1071.45L1451.21 1072.26L1457.26 1074.27L1463.31 1077.1L1471.37 1081.73L1479.44 1086.17L1487.5 1090.81L1495.56 1095.85L1503.63 1100.89L1511.69 1105.93L1519.76 1110.56L1527.82 1116.01L1535.89 1120.65L1543.95 1126.09L1552.02 1131.73L1557.06 1134.76L1561.09 1139.19L1563.1 1142.22L1568.15 1144.23L1573.19 1146.65L1579.23 1149.27L1585.28 1150.48" fill="none" stroke="#222" stroke-width="0.9" stroke-linejoin="round"/>
<path d="M1478.43 1048.06V1066.64" stroke="#3c3cf0" stroke-width="0.9"/>
<path d="M1475.83 1064.14H1481.03L1478.43 1069.64Z" fill="#1010e0"/>
<path d="M1370.55 1041.3V1199.5H1595.58" fill="none" stroke="#3c3c3c" stroke-width="1.3"/>
<path d="M1370.35 1041.8H1378.25M1370.35 1085H1373.05M1370.35 1074.11H1373.05M1370.35 1066.39H1373.05M1370.35 1060.4H1375.75M1370.35 1055.51H1373.05M1370.35 1051.37H1373.05M1370.35 1047.79H1373.05M1370.35 1044.63H1373.05M1370.35 1103.6H1378.25M1370.35 1146.8H1373.05M1370.35 1135.91H1373.05M1370.35 1128.19H1373.05M1370.35 1122.2H1375.75M1370.35 1117.31H1373.05M1370.35 1113.17H1373.05M1370.35 1109.59H1373.05M1370.35 1106.43H1373.05M1370.35 1165.4H1378.25M1370.35 1197.71H1373.05M1370.35 1189.99H1373.05M1370.35 1184H1375.75M1370.35 1179.11H1373.05M1370.35 1174.97H1373.05M1370.35 1171.39H1373.05M1370.35 1168.23H1373.05M1380.65 1199.8V1205.6M1421.57 1199.8V1205.6M1462.5 1199.8V1205.6M1503.43 1199.8V1205.6M1544.35 1199.8V1205.6M1585.28 1199.8V1205.6" stroke="#333" stroke-width="0.95"/>
<text class="tk" x="1328.69" y="1049.05" font-size="19.6" textLength="37.96" lengthAdjust="spacingAndGlyphs">1.00</text>
<text class="tk" x="1328.69" y="1110.85" font-size="19.6" textLength="37.96" lengthAdjust="spacingAndGlyphs">0.10</text>
<text class="tk" x="1328.89" y="1172.65" font-size="19.6" textLength="37.96" lengthAdjust="spacingAndGlyphs">0.01</text>
<text class="tk" x="1378.73" y="1223.2" font-size="19.6" textLength="11.39" lengthAdjust="spacingAndGlyphs">0</text>
<text class="tk" x="1564.06" y="1223.2" font-size="19.6" textLength="22.78" lengthAdjust="spacingAndGlyphs">50</text>
<text class="lab" transform="translate(1451.25 1233.4)"><tspan class="fi" x="1.64" y="0.36" font-size="26.39" textLength="10.11" lengthAdjust="spacingAndGlyphs">f</tspan> <tspan class="r" x="20.5" y="2.52" font-size="33.94" textLength="7.12" lengthAdjust="spacingAndGlyphs">[</tspan><tspan class="r" x="26.77" y="0" font-size="28.85" textLength="32.35" lengthAdjust="spacingAndGlyphs">Hz</tspan><tspan class="r" x="58.97" y="2.52" font-size="33.94" textLength="6.96" lengthAdjust="spacingAndGlyphs">]</tspan></text>
<path d="M1676.22 547.8H1901.65" stroke="#333" stroke-width="0.9" stroke-dasharray="3.3 2.1"/>
<path d="M1687.32 599.3L1687.32 530.65L1693.37 529.03L1699.42 524.6L1705.47 515.93L1711.52 504.84L1717.56 492.74L1723.61 479.64L1729.66 468.55L1734.7 463.71L1738.73 464.11L1742.77 467.54L1747.81 473.59L1753.85 480.65L1759.9 485.69L1765.95 489.11L1774.02 493.15L1782.08 493.75L1790.15 491.73L1798.21 491.33L1806.27 490.12L1812.32 491.73L1818.37 494.76L1824.42 499.8L1830.47 505.85L1836.52 512.9L1842.56 519.96L1846.6 525L1852.65 530.04L1858.69 533.06L1862.73 532.06L1868.77 534.68L1872.81 537.5L1879.86 539.11L1884.9 538.71L1891.35 539.11L1891.35 599.3Z" fill="#b7b7b7"/>
<path d="M1806.88 443.3V601.3" stroke="#f27878" stroke-width="0.9"/>
<path d="M1815.55 443.3V601.3" stroke="#f27878" stroke-width="0.9"/>
<path d="M1806.68 599.3L1806.68 490.23L1812.32 491.73L1814.34 492.74L1814.34 599.3Z" fill="#000"/>
<path d="M1738.53 464.09V601.3" stroke="#5a5ae6" stroke-width="0.9"/>
<path d="M1687.32 530.65L1693.37 529.03L1699.42 524.6L1705.47 515.93L1711.52 504.84L1717.56 492.74L1723.61 479.64L1729.66 468.55L1734.7 463.71L1738.73 464.11L1742.77 467.54L1747.81 473.59L1753.85 480.65L1759.9 485.69L1765.95 489.11L1774.02 493.15L1782.08 493.75L1790.15 491.73L1798.21 491.33L1806.27 490.12L1812.32 491.73L1818.37 494.76L1824.42 499.8L1830.47 505.85L1836.52 512.9L1842.56 519.96L1846.6 525L1852.65 530.04L1858.69 533.06L1862.73 532.06L1868.77 534.68L1872.81 537.5L1879.86 539.11L1884.9 538.71L1891.35 539.11" fill="none" stroke="#222" stroke-width="0.9" stroke-linejoin="round"/>
<path d="M1738.53 442.74V453.05" stroke="#3c3cf0" stroke-width="0.9"/>
<path d="M1735.93 450.55H1741.13L1738.53 456.05Z" fill="#1010e0"/>
<path d="M1676.42 442.8V601.2H1901.65" fill="none" stroke="#3c3c3c" stroke-width="1.3"/>
<path d="M1676.22 443.3H1684.12M1676.22 486.5H1678.92M1676.22 475.61H1678.92M1676.22 467.89H1678.92M1676.22 461.9H1681.62M1676.22 457.01H1678.92M1676.22 452.87H1678.92M1676.22 449.29H1678.92M1676.22 446.13H1678.92M1676.22 505.1H1684.12M1676.22 548.3H1678.92M1676.22 537.41H1678.92M1676.22 529.69H1678.92M1676.22 523.7H1681.62M1676.22 518.81H1678.92M1676.22 514.67H1678.92M1676.22 511.09H1678.92M1676.22 507.93H1678.92M1676.22 566.9H1684.12M1676.22 599.21H1678.92M1676.22 591.49H1678.92M1676.22 585.5H1681.62M1676.22 580.61H1678.92M1676.22 576.47H1678.92M1676.22 572.89H1678.92M1676.22 569.73H1678.92M1686.52 601.3V607.1M1727.48 601.3V607.1M1768.45 601.3V607.1M1809.42 601.3V607.1M1850.39 601.3V607.1M1891.35 601.3V607.1" stroke="#333" stroke-width="0.95"/>
<text class="tk" x="1634.56" y="450.55" font-size="19.6" textLength="37.96" lengthAdjust="spacingAndGlyphs">1.00</text>
<text class="tk" x="1634.56" y="512.35" font-size="19.6" textLength="37.96" lengthAdjust="spacingAndGlyphs">0.10</text>
<text class="tk" x="1634.76" y="574.15" font-size="19.6" textLength="37.96" lengthAdjust="spacingAndGlyphs">0.01</text>
<text class="tk" x="1684.6" y="624.7" font-size="19.6" textLength="11.39" lengthAdjust="spacingAndGlyphs">0</text>
<text class="tk" x="1870.14" y="624.7" font-size="19.6" textLength="22.78" lengthAdjust="spacingAndGlyphs">50</text>
<text class="lab" transform="translate(1757.12 634.9)"><tspan class="fi" x="1.64" y="0.36" font-size="26.39" textLength="10.11" lengthAdjust="spacingAndGlyphs">f</tspan> <tspan class="r" x="20.5" y="2.52" font-size="33.94" textLength="7.12" lengthAdjust="spacingAndGlyphs">[</tspan><tspan class="r" x="26.77" y="0" font-size="28.85" textLength="32.35" lengthAdjust="spacingAndGlyphs">Hz</tspan><tspan class="r" x="58.97" y="2.52" font-size="33.94" textLength="6.96" lengthAdjust="spacingAndGlyphs">]</tspan></text>
<path d="M1676.22 1146.3H1901.65" stroke="#333" stroke-width="0.9" stroke-dasharray="3.3 2.1"/>
<path d="M1687.32 1197.8L1687.32 1129.52L1691.35 1128.1L1695.39 1124.07L1699.42 1117.02L1704.46 1106.94L1709.5 1100.48L1715.55 1093.83L1721.6 1088.39L1727.65 1083.15L1733.69 1078.31L1739.74 1073.06L1745.79 1068.63L1751.84 1064.19L1757.89 1059.56L1763.94 1054.92L1769.98 1052.1L1774.02 1050.48L1778.05 1050.08L1783.09 1050.48L1788.13 1052.9L1794.18 1057.54L1800.23 1062.98L1806.27 1069.64L1812.32 1076.69L1818.37 1083.75L1824.42 1090.4L1830.47 1096.45L1836.52 1101.9L1842.56 1105.93L1848.61 1109.56L1854.66 1112.58L1859.7 1113.39L1864.74 1116.01L1869.78 1118.43L1874.82 1120.65L1879.86 1121.05L1884.9 1120.04L1891.35 1119.44L1891.35 1197.8Z" fill="#b7b7b7"/>
<path d="M1743.87 1041.8V1199.8" stroke="#f27878" stroke-width="0.9"/>
<path d="M1751.34 1041.8V1199.8" stroke="#f27878" stroke-width="0.9"/>
<path d="M1743.37 1197.8L1743.37 1070.4L1745.79 1068.63L1751.84 1064.19L1751.84 1197.8Z" fill="#000"/>
<path d="M1773.41 1050.73V1199.8" stroke="#5a5ae6" stroke-width="0.9"/>
<path d="M1687.32 1129.52L1691.35 1128.1L1695.39 1124.07L1699.42 1117.02L1704.46 1106.94L1709.5 1100.48L1715.55 1093.83L1721.6 1088.39L1727.65 1083.15L1733.69 1078.31L1739.74 1073.06L1745.79 1068.63L1751.84 1064.19L1757.89 1059.56L1763.94 1054.92L1769.98 1052.1L1774.02 1050.48L1778.05 1050.08L1783.09 1050.48L1788.13 1052.9L1794.18 1057.54L1800.23 1062.98L1806.27 1069.64L1812.32 1076.69L1818.37 1083.75L1824.42 1090.4L1830.47 1096.45L1836.52 1101.9L1842.56 1105.93L1848.61 1109.56L1854.66 1112.58L1859.7 1113.39L1864.74 1116.01L1869.78 1118.43L1874.82 1120.65L1879.86 1121.05L1884.9 1120.04L1891.35 1119.44" fill="none" stroke="#222" stroke-width="0.9" stroke-linejoin="round"/>
<path d="M1773.41 1031.33V1041.44" stroke="#3c3cf0" stroke-width="0.9"/>
<path d="M1770.81 1038.94H1776.01L1773.41 1044.44Z" fill="#1010e0"/>
<path d="M1676.42 1041.3V1199.5H1901.65" fill="none" stroke="#3c3c3c" stroke-width="1.3"/>
<path d="M1676.22 1041.8H1684.12M1676.22 1085H1678.92M1676.22 1074.11H1678.92M1676.22 1066.39H1678.92M1676.22 1060.4H1681.62M1676.22 1055.51H1678.92M1676.22 1051.37H1678.92M1676.22 1047.79H1678.92M1676.22 1044.63H1678.92M1676.22 1103.6H1684.12M1676.22 1146.8H1678.92M1676.22 1135.91H1678.92M1676.22 1128.19H1678.92M1676.22 1122.2H1681.62M1676.22 1117.31H1678.92M1676.22 1113.17H1678.92M1676.22 1109.59H1678.92M1676.22 1106.43H1678.92M1676.22 1165.4H1684.12M1676.22 1197.71H1678.92M1676.22 1189.99H1678.92M1676.22 1184H1681.62M1676.22 1179.11H1678.92M1676.22 1174.97H1678.92M1676.22 1171.39H1678.92M1676.22 1168.23H1678.92M1686.52 1199.8V1205.6M1727.48 1199.8V1205.6M1768.45 1199.8V1205.6M1809.42 1199.8V1205.6M1850.39 1199.8V1205.6M1891.35 1199.8V1205.6" stroke="#333" stroke-width="0.95"/>
<text class="tk" x="1634.56" y="1049.05" font-size="19.6" textLength="37.96" lengthAdjust="spacingAndGlyphs">1.00</text>
<text class="tk" x="1634.56" y="1110.85" font-size="19.6" textLength="37.96" lengthAdjust="spacingAndGlyphs">0.10</text>
<text class="tk" x="1634.76" y="1172.65" font-size="19.6" textLength="37.96" lengthAdjust="spacingAndGlyphs">0.01</text>
<text class="tk" x="1684.6" y="1223.2" font-size="19.6" textLength="11.39" lengthAdjust="spacingAndGlyphs">0</text>
<text class="tk" x="1870.14" y="1223.2" font-size="19.6" textLength="22.78" lengthAdjust="spacingAndGlyphs">50</text>
<text class="lab" transform="translate(1757.12 1233.4)"><tspan class="fi" x="1.64" y="0.36" font-size="26.39" textLength="10.11" lengthAdjust="spacingAndGlyphs">f</tspan> <tspan class="r" x="20.5" y="2.52" font-size="33.94" textLength="7.12" lengthAdjust="spacingAndGlyphs">[</tspan><tspan class="r" x="26.77" y="0" font-size="28.85" textLength="32.35" lengthAdjust="spacingAndGlyphs">Hz</tspan><tspan class="r" x="58.97" y="2.52" font-size="33.94" textLength="6.96" lengthAdjust="spacingAndGlyphs">]</tspan></text>
<text class="red" transform="translate(208.57 153.25) scale(1.079 1)" font-size="29.93">19.1 Hz</text>
<text class="red" transform="translate(62.06 322.07) scale(1.153 1)" font-size="28.36">11.1 Hz</text>
<text class="red" transform="translate(217.3 434.08) scale(1.175 1)" font-size="27.94">30.2±1Hz</text>
<text class="blu" transform="translate(164.18 485.48) scale(1.135 1)" font-size="28.15">12.7 Hz</text>
<text class="red" transform="translate(255.64 771.78) scale(1.148 1)" font-size="27.94">48.4 Hz</text>
<text class="red" transform="translate(40.27 955.17) scale(1.132 1)" font-size="28.59">-36.6 Hz</text>
<text class="red" transform="translate(154.05 1032.68) scale(1.172 1)" font-size="28.09">16.0±1Hz</text>
<text class="blu" transform="translate(239.3 1078.87) scale(1.129 1)" font-size="28.44">23.9 Hz</text>
</svg>
</body></html>
